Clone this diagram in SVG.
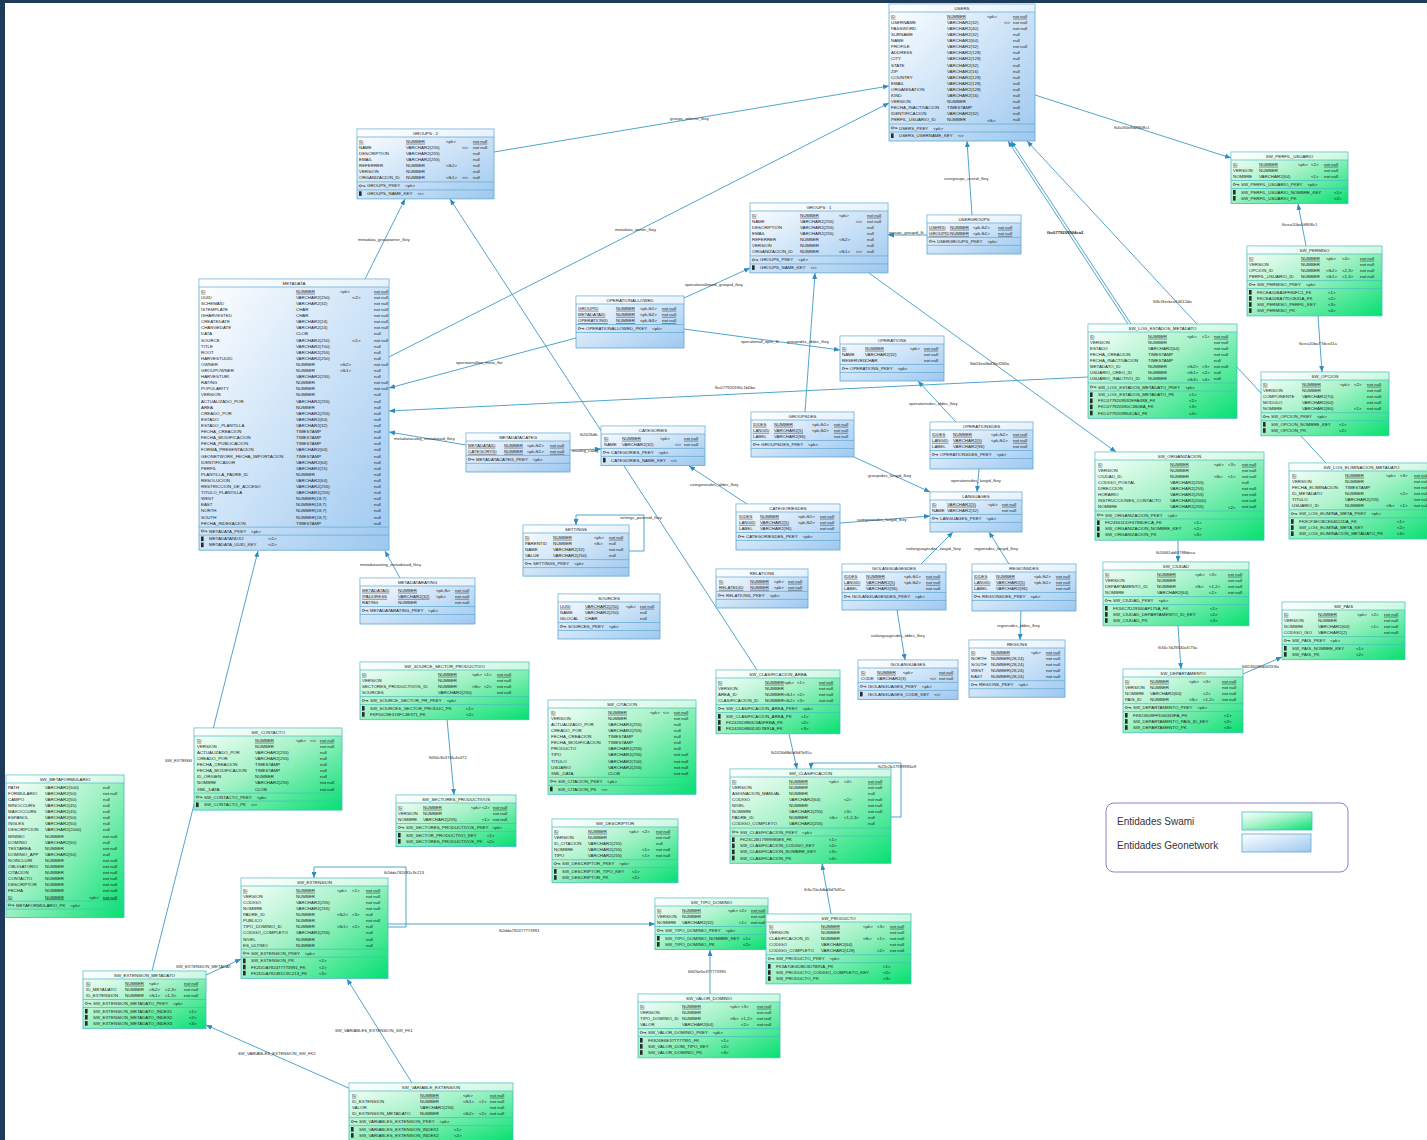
<svg xmlns="http://www.w3.org/2000/svg" xmlns:xlink="http://www.w3.org/1999/xlink" width="1427" height="1140" viewBox="0 0 1427 1140">
<defs>
<style>
text{font-family:'Liberation Sans',Arial,sans-serif;font-size:4.4px;fill:#1c1c1c}
.h{text-anchor:middle}
.u{text-decoration:underline}
.B{fill:url(#gB);stroke:#5ea8d2;stroke-width:.8}
.G{fill:url(#gG);stroke:#48bcc0;stroke-width:.8}
.hd{fill:#fff;fill-opacity:.55}
.sB{fill:none;stroke:#5ea8d2;stroke-width:.7}
.sG{fill:none;stroke:#48bcc0;stroke-width:.7}
.e{fill:none;stroke:#3d9bc6;stroke-width:.9;marker-end:url(#a)}
.l{font-size:4.2px;fill:#2a2a2a}
.lg{font-size:10px;fill:#333}
</style>
<linearGradient id="gB" x1="0" y1="0" x2="1" y2="1"><stop offset="0" stop-color="#ffffff"/><stop offset="1" stop-color="#9dc8f0"/></linearGradient>
<linearGradient id="gG" x1="0" y1="0" x2="1" y2="1"><stop offset="0" stop-color="#ffffff"/><stop offset=".45" stop-color="#a6f2c8"/><stop offset="1" stop-color="#05e070"/></linearGradient>
<marker id="a" viewBox="0 0 6 5" refX="6" refY="2.5" markerWidth="6" markerHeight="5" orient="auto" markerUnits="userSpaceOnUse"><path d="M0 0L6 2.5L0 5z" fill="#2f8cc0"/></marker>
<g id="ky"><circle cx="1.3" cy="1.5" r="1.1" fill="none" stroke="#333" stroke-width=".6"/><path d="M2.4 1.5H6M5 1.5V2.8M6 1.5V2.6" stroke="#333" stroke-width=".6" fill="none"/></g>
<rect id="ix" width="2.6" height="4.6" fill="#2b2b2b"/>
</defs>
<rect width="1427" height="1140" fill="#1e3b5a"/>
<rect x="5" y="3" width="1422" height="1137" fill="#fff"/>

<g id="connectors">
<path class="e" d="M494 152L889 86"/>
<path class="e" d="M389 357L889 103"/>
<path class="e" d="M365 279L405 199"/>
<path class="e" d="M757 670L450 199"/>
<path class="e" d="M684 298L750 268"/>
<path class="e" d="M684 329L840 350"/>
<path class="e" d="M576 338L389 388"/>
<path class="e" d="M805 412L815 273"/>
<path class="e" d="M869 273L1116 452"/>
<path class="e" d="M1088 377L389 411"/>
<path class="e" d="M1035 95L1231 158"/>
<path class="e" d="M1306 246L1298 204"/>
<path class="e" d="M1318 316L1322 372"/>
<path class="e" d="M972 215L967 141"/>
<path class="e" d="M927 235L888 235"/>
<path class="e" d="M1128 324L1008 141"/>
<path class="e" d="M1131 324L1011 141"/>
<path class="e" d="M1326 463L1027 141"/>
<path class="e" d="M1178 540L1178 562"/>
<path class="e" d="M1178 626L1181 669"/>
<path class="e" d="M1243 674L1282 657"/>
<path class="e" d="M956 422L918 381"/>
<path class="e" d="M979 469L977 492"/>
<path class="e" d="M854 457L930 492"/>
<path class="e" d="M840 523L930 516"/>
<path class="e" d="M921 564L953 532"/>
<path class="e" d="M1009 564L989 532"/>
<path class="e" d="M897 610L905 660"/>
<path class="e" d="M1021 611L1020 640"/>
<path class="e" d="M747 504L689 466"/>
<path class="e" d="M570 450L601 449"/>
<path class="e" d="M466 445L389 432"/>
<path class="e" d="M400 578L385 551"/>
<path class="e" d="M152 971L258 551"/>
<path class="e" d="M206 975L241 959"/>
<path class="e" d="M412 1083L347 979"/>
<path class="e" d="M353 1090L206 1025"/>
<path class="e" d="M447 719L454 795"/>
<path class="e" d="M789 734L797 769"/>
<path class="e" d="M831 914L822 864"/>
<path class="e" d="M710 994L710 950"/>
<path class="e" d="M388 924L655 924"/>
<path class="e" d="M388 927H406V867H314V878"/>
<path class="e" d="M891 817H901V763H811V769"/>
<path class="e" d="M629 551H644V515H576V525"/>
<text class="l" x="670" y="119.5">groups_referrer_fkey</text>
<text class="l" x="615" y="230.5">metadata_owner_fkey</text>
<text class="l" x="358" y="240.5">metadata_groupowner_fkey</text>
<text class="l" x="580" y="435.5">fk2426db</text>
<text class="l" x="685" y="285.5">operationallowed_groupid_fkey</text>
<text class="l" x="741" y="343">operationall_oper_fk</text>
<text class="l" x="787" y="343">groupsdes_iddes_fkey</text>
<text class="l" x="456" y="364">operationallow_meta_fke</text>
<text class="l" x="970" y="364.5">fkb03ea6bd1bcf2b5a</text>
<text class="l" x="715" y="388.5">fkc077920590c1b0ba</text>
<text class="l" x="1114" y="128.5">fk4a5f0e9d2f808c1</text>
<text class="l" x="1282" y="225.5">fkcea10ba5ff808c1</text>
<text class="l" x="1299" y="344.5">fkcea10ba77dce41a</text>
<text class="l" x="944" y="179.5">usergroups_userid_fkey</text>
<text class="l" x="889" y="234">groups_groupid_fk</text>
<text class="l" x="1047" y="233.5" font-weight="bold">fkc0779209964ca2</text>
<text class="l" x="1153" y="302.5">fk8cf3ecbce64612da</text>
<text class="l" x="1156" y="553.5">fk24661ddf4788deca</text>
<text class="l" x="1158" y="648.5">fk34c7d29340af175a</text>
<text class="l" x="1242" y="667.5">fk824609ffd06333fa</text>
<text class="l" x="909" y="404.5">operationsdes_iddes_fkey</text>
<text class="l" x="951" y="481.5">operationsdes_langid_fkey</text>
<text class="l" x="868" y="476.5">groupsdes_langid_fkey</text>
<text class="l" x="857" y="520.5">categoriesdes_langid_fkey</text>
<text class="l" x="906" y="549.5">isolanguagesdes_langid_fkey</text>
<text class="l" x="974" y="549.5">regionsdes_langid_fkey</text>
<text class="l" x="871" y="636.5">isolanguagesdes_iddes_fkey</text>
<text class="l" x="997" y="626.5">regionsdes_iddes_fkey</text>
<text class="l" x="690" y="485.5">categoriesdes_iddes_fkey</text>
<text class="l" x="572" y="451.5">mcateg_categ</text>
<text class="l" x="394" y="439.5">metadatacateg_metadataid_fkey</text>
<text class="l" x="360" y="565.5">metadatarating_metadataid_fkey</text>
<text class="l" x="165" y="761.5">SW_EXTENSI</text>
<text class="l" x="176" y="967.5">SW_EXTENSION_METADAT</text>
<text class="l" x="335" y="1031.5">SW_VARIABLES_EXTENSION_SW_FK1</text>
<text class="l" x="238" y="1054.5">SW_VARIABLES_EXTENSION_SW_FK2</text>
<text class="l" x="429" y="758.5">fkf50c8e374fc4e371</text>
<text class="l" x="771" y="753.5">fk2426d8b0d3d7b91a</text>
<text class="l" x="804" y="890.5">fk3a70e4dbd3d7b91a</text>
<text class="l" x="688" y="972.5">fk826e6e377773991</text>
<text class="l" x="499" y="931.5">fk2dda782477773991</text>
<text class="l" x="384" y="873.5">fk2dda782481c9c213</text>
<text class="l" x="878" y="767.5">fk23c2b17999985e8</text>
<text class="l" x="620" y="518.5">settings_parentid_fkey</text>
</g>

<g id="users" transform="translate(889,4)">
<rect class="B" width="146" height="137"/><rect class="hd" x=".4" y=".4" width="145.2" height="7.6"/>
<path class="sB" d="M0 8H146M0 120H146M0 128H146"/>
<text class="h" x="73" y="5.6">USERS</text>
<text x="2" y="13.8"><tspan class="u">ID</tspan><tspan x="2" dy="6.1">USERNAME</tspan><tspan x="2" dy="6.1">PASSWORD</tspan><tspan x="2" dy="6.1">SURNAME</tspan><tspan x="2" dy="6.1">NAME</tspan><tspan x="2" dy="6.1">PROFILE</tspan><tspan x="2" dy="6.1">ADDRESS</tspan><tspan x="2" dy="6.1">CITY</tspan><tspan x="2" dy="6.1">STATE</tspan><tspan x="2" dy="6.1">ZIP</tspan><tspan x="2" dy="6.1">COUNTRY</tspan><tspan x="2" dy="6.1">EMAIL</tspan><tspan x="2" dy="6.1">ORGANISATION</tspan><tspan x="2" dy="6.1">KIND</tspan><tspan x="2" dy="6.1">VERSION</tspan><tspan x="2" dy="6.1">FECHA_INACTIVACION</tspan><tspan x="2" dy="6.1">IDENTIFICACION</tspan><tspan x="2" dy="6.1">PERFIL_USUARIO_ID</tspan></text>
<text x="58" y="13.8"><tspan class="u">NUMBER</tspan><tspan x="58" dy="6.1">VARCHAR2(32)</tspan><tspan x="58" dy="6.1">VARCHAR2(40)</tspan><tspan x="58" dy="6.1">VARCHAR2(32)</tspan><tspan x="58" dy="6.1">VARCHAR2(64)</tspan><tspan x="58" dy="6.1">VARCHAR2(32)</tspan><tspan x="58" dy="6.1">VARCHAR2(128)</tspan><tspan x="58" dy="6.1">VARCHAR2(128)</tspan><tspan x="58" dy="6.1">VARCHAR2(32)</tspan><tspan x="58" dy="6.1">VARCHAR2(16)</tspan><tspan x="58" dy="6.1">VARCHAR2(128)</tspan><tspan x="58" dy="6.1">VARCHAR2(128)</tspan><tspan x="58" dy="6.1">VARCHAR2(128)</tspan><tspan x="58" dy="6.1">VARCHAR2(16)</tspan><tspan x="58" dy="6.1">NUMBER</tspan><tspan x="58" dy="6.1">TIMESTAMP</tspan><tspan x="58" dy="6.1">VARCHAR2(32)</tspan><tspan x="58" dy="6.1">NUMBER</tspan></text>
<text><tspan x="98" y="13.8">&lt;pk&gt;</tspan><tspan x="98" y="117.5">&lt;fk&gt;</tspan><tspan x="115" y="19.9">&lt;i&gt;</tspan></text>
<text x="124" y="13.8"><tspan class="u">not null</tspan><tspan x="124" dy="6.1">not null</tspan><tspan x="124" dy="6.1">not null</tspan><tspan x="124" dy="6.1">null</tspan><tspan x="124" dy="6.1">null</tspan><tspan x="124" dy="6.1">not null</tspan><tspan x="124" dy="6.1">null</tspan><tspan x="124" dy="6.1">null</tspan><tspan x="124" dy="6.1">null</tspan><tspan x="124" dy="6.1">null</tspan><tspan x="124" dy="6.1">null</tspan><tspan x="124" dy="6.1">null</tspan><tspan x="124" dy="6.1">null</tspan><tspan x="124" dy="6.1">null</tspan><tspan x="124" dy="6.1">null</tspan><tspan x="124" dy="6.1">null</tspan><tspan x="124" dy="6.1">null</tspan><tspan x="124" dy="6.1">null</tspan></text>
<use href="#ky" x="2" y="122.4"/><text x="10" y="125.5">USERS_PKEY<tspan dx="5">&lt;pk&gt;</tspan></text>
<use href="#ix" x="2" y="129.4"/><text x="10" y="133.2">USERS_USERNAME_KEY<tspan dx="5">&lt;i&gt;</tspan></text>
</g>

<g id="groups2" transform="translate(357,129)">
<rect class="B" width="137" height="69.9"/><rect class="hd" x=".4" y=".4" width="136.2" height="7.6"/>
<path class="sB" d="M0 8H137M0 52.9H137M0 60.9H137"/>
<text class="h" x="68.5" y="5.6">GROUPS : 2</text>
<text x="2" y="13.8"><tspan class="u">ID</tspan><tspan x="2" dy="6.1">NAME</tspan><tspan x="2" dy="6.1">DESCRIPTION</tspan><tspan x="2" dy="6.1">EMAIL</tspan><tspan x="2" dy="6.1">REFERRER</tspan><tspan x="2" dy="6.1">VERSION</tspan><tspan x="2" dy="6.1">ORGANIZACION_ID</tspan></text>
<text x="49" y="13.8"><tspan class="u">NUMBER</tspan><tspan x="49" dy="6.1">VARCHAR2(255)</tspan><tspan x="49" dy="6.1">VARCHAR2(255)</tspan><tspan x="49" dy="6.1">VARCHAR2(255)</tspan><tspan x="49" dy="6.1">NUMBER</tspan><tspan x="49" dy="6.1">NUMBER</tspan><tspan x="49" dy="6.1">NUMBER</tspan></text>
<text><tspan x="89" y="13.8">&lt;pk&gt;</tspan><tspan x="89" y="38.2">&lt;fk2&gt;</tspan><tspan x="89" y="50.4">&lt;fk1&gt;</tspan><tspan x="105" y="19.9">&lt;i&gt;</tspan><tspan x="105" y="50.4">&lt;i&gt;</tspan></text>
<text x="116" y="13.8"><tspan class="u">not null</tspan><tspan x="116" dy="6.1">not null</tspan><tspan x="116" dy="6.1">null</tspan><tspan x="116" dy="6.1">null</tspan><tspan x="116" dy="6.1">null</tspan><tspan x="116" dy="6.1">null</tspan><tspan x="116" dy="6.1">null</tspan></text>
<use href="#ky" x="2" y="55.3"/><text x="10" y="58.4">GROUPS_PKEY<tspan dx="5">&lt;pk&gt;</tspan></text>
<use href="#ix" x="2" y="62.3"/><text x="10" y="66.1">GROUPS_NAME_KEY<tspan dx="5">&lt;i&gt;</tspan></text>
</g>

<g id="groups1" transform="translate(750,203)">
<rect class="B" width="138" height="69.9"/><rect class="hd" x=".4" y=".4" width="137.2" height="7.6"/>
<path class="sB" d="M0 8H138M0 52.9H138M0 60.9H138"/>
<text class="h" x="69" y="5.6">GROUPS : 1</text>
<text x="2" y="13.8"><tspan class="u">ID</tspan><tspan x="2" dy="6.1">NAME</tspan><tspan x="2" dy="6.1">DESCRIPTION</tspan><tspan x="2" dy="6.1">EMAIL</tspan><tspan x="2" dy="6.1">REFERRER</tspan><tspan x="2" dy="6.1">VERSION</tspan><tspan x="2" dy="6.1">ORGANIZACION_ID</tspan></text>
<text x="50" y="13.8"><tspan class="u">NUMBER</tspan><tspan x="50" dy="6.1">VARCHAR2(255)</tspan><tspan x="50" dy="6.1">VARCHAR2(255)</tspan><tspan x="50" dy="6.1">VARCHAR2(255)</tspan><tspan x="50" dy="6.1">NUMBER</tspan><tspan x="50" dy="6.1">NUMBER</tspan><tspan x="50" dy="6.1">NUMBER</tspan></text>
<text><tspan x="89" y="13.8">&lt;pk&gt;</tspan><tspan x="89" y="38.2">&lt;fk2&gt;</tspan><tspan x="89" y="50.4">&lt;fk1&gt;</tspan><tspan x="106" y="19.9">&lt;i&gt;</tspan><tspan x="106" y="50.4">&lt;i&gt;</tspan></text>
<text x="117" y="13.8"><tspan class="u">not null</tspan><tspan x="117" dy="6.1">not null</tspan><tspan x="117" dy="6.1">null</tspan><tspan x="117" dy="6.1">null</tspan><tspan x="117" dy="6.1">null</tspan><tspan x="117" dy="6.1">null</tspan><tspan x="117" dy="6.1">null</tspan></text>
<use href="#ky" x="2" y="55.3"/><text x="10" y="58.4">GROUPS_PKEY<tspan dx="5">&lt;pk&gt;</tspan></text>
<use href="#ix" x="2" y="62.3"/><text x="10" y="66.1">GROUPS_NAME_KEY<tspan dx="5">&lt;i&gt;</tspan></text>
</g>

<g id="usergroups" transform="translate(927,215)">
<rect class="B" width="94" height="39"/><rect class="hd" x=".4" y=".4" width="93.2" height="7.6"/>
<path class="sB" d="M0 8H94M0 22.4H94M0 30.4H94"/>
<text class="h" x="47" y="5.6">USERGROUPS</text>
<text x="2" y="13.8"><tspan class="u">USERID</tspan><tspan x="2" dy="6.1" class="u">GROUPID</tspan></text>
<text x="23" y="13.8"><tspan class="u">NUMBER</tspan><tspan x="23" dy="6.1" class="u">NUMBER</tspan></text>
<text x="46" y="13.8">&lt;pk,fk2&gt;<tspan x="46" dy="6.1">&lt;pk,fk1&gt;</tspan></text>
<text x="71" y="13.8"><tspan class="u">not null</tspan><tspan x="71" dy="6.1" class="u">not null</tspan></text>
<use href="#ky" x="2" y="24.8"/><text x="10" y="27.9">USERGROUPS_PKEY<tspan dx="5">&lt;pk&gt;</tspan></text>
</g>

<g id="operations" transform="translate(840,336)">
<rect class="B" width="104" height="45"/><rect class="hd" x=".4" y=".4" width="103.2" height="7.6"/>
<path class="sB" d="M0 8H104M0 28.5H104M0 36.5H104"/>
<text class="h" x="52" y="5.6">OPERATIONS</text>
<text x="2" y="13.8"><tspan class="u">ID</tspan><tspan x="2" dy="6.1">NAME</tspan><tspan x="2" dy="6.1">RESERVED</tspan></text>
<text x="25" y="13.8"><tspan class="u">NUMBER</tspan><tspan x="25" dy="6.1">VARCHAR2(32)</tspan><tspan x="25" dy="6.1">CHAR</tspan></text>
<text x="70" y="13.8">&lt;pk&gt;</text>
<text x="84" y="13.8"><tspan class="u">not null</tspan><tspan x="84" dy="6.1">not null</tspan><tspan x="84" dy="6.1">not null</tspan></text>
<use href="#ky" x="2" y="30.9"/><text x="10" y="34">OPERATIONS_PKEY<tspan dx="5">&lt;pk&gt;</tspan></text>
</g>

<g id="operationallowed" transform="translate(576,296)">
<rect class="B" width="108" height="52"/><rect class="hd" x=".4" y=".4" width="107.2" height="7.6"/>
<path class="sB" d="M0 8H108M0 28.5H108M0 36.5H108"/>
<text class="h" x="54" y="5.6">OPERATIONALLOWED</text>
<text x="2" y="13.8"><tspan class="u">GROUPID</tspan><tspan x="2" dy="6.1" class="u">METADATAID</tspan><tspan x="2" dy="6.1" class="u">OPERATIONID</tspan></text>
<text x="40" y="13.8"><tspan class="u">NUMBER</tspan><tspan x="40" dy="6.1" class="u">NUMBER</tspan><tspan x="40" dy="6.1" class="u">NUMBER</tspan></text>
<text x="64" y="13.8">&lt;pk,fk1&gt;<tspan x="64" dy="6.1">&lt;pk,fk2&gt;</tspan><tspan x="64" dy="6.1">&lt;pk,fk3&gt;</tspan></text>
<text x="86" y="13.8"><tspan class="u">not null</tspan><tspan x="86" dy="6.1" class="u">not null</tspan><tspan x="86" dy="6.1" class="u">not null</tspan></text>
<use href="#ky" x="2" y="30.9"/><text x="10" y="34">OPERATIONALLOWED_PKEY<tspan dx="5">&lt;pk&gt;</tspan></text>
</g>

<g id="metadata" transform="translate(199,279)">
<rect class="B" width="190" height="271.2"/><rect class="hd" x=".4" y=".4" width="189.2" height="7.6"/>
<path class="sB" d="M0 8H190M0 248.1H190M0 256.1H190"/>
<text class="h" x="95" y="5.6">METADATA</text>
<text x="2" y="13.8"><tspan class="u">ID</tspan><tspan x="2" dy="6.1">UUID</tspan><tspan x="2" dy="6.1">SCHEMAID</tspan><tspan x="2" dy="6.1">ISTEMPLATE</tspan><tspan x="2" dy="6.1">ISHARVESTED</tspan><tspan x="2" dy="6.1">CREATEDATE</tspan><tspan x="2" dy="6.1">CHANGEDATE</tspan><tspan x="2" dy="6.1">DATA</tspan><tspan x="2" dy="6.1">SOURCE</tspan><tspan x="2" dy="6.1">TITLE</tspan><tspan x="2" dy="6.1">ROOT</tspan><tspan x="2" dy="6.1">HARVESTUUID</tspan><tspan x="2" dy="6.1">OWNER</tspan><tspan x="2" dy="6.1">GROUPOWNER</tspan><tspan x="2" dy="6.1">HARVESTURI</tspan><tspan x="2" dy="6.1">RATING</tspan><tspan x="2" dy="6.1">POPULARITY</tspan><tspan x="2" dy="6.1">VERSION</tspan><tspan x="2" dy="6.1">ACTUALIZADO_POR</tspan><tspan x="2" dy="6.1">AREA</tspan><tspan x="2" dy="6.1">CREADO_POR</tspan><tspan x="2" dy="6.1">ESTADO</tspan><tspan x="2" dy="6.1">ESTADO_PLANTILLA</tspan><tspan x="2" dy="6.1">FECHA_CREACION</tspan><tspan x="2" dy="6.1">FECHA_MODIFICACION</tspan><tspan x="2" dy="6.1">FECHA_PUBLICACION</tspan><tspan x="2" dy="6.1">FORMA_PRESENTACION</tspan><tspan x="2" dy="6.1">GEONETWORK_FECHA_IMPORTACION</tspan><tspan x="2" dy="6.1">IDENTIFICADOR</tspan><tspan x="2" dy="6.1">PERFIL</tspan><tspan x="2" dy="6.1">PLANTILLA_PADRE_ID</tspan><tspan x="2" dy="6.1">RESOLUCION</tspan><tspan x="2" dy="6.1">RESTRICCION_DE_ACCESO</tspan><tspan x="2" dy="6.1">TITULO_PLANTILLA</tspan><tspan x="2" dy="6.1">WEST</tspan><tspan x="2" dy="6.1">EAST</tspan><tspan x="2" dy="6.1">NORTH</tspan><tspan x="2" dy="6.1">SOUTH</tspan><tspan x="2" dy="6.1">FECHA_INDEXACION</tspan></text>
<text x="97" y="13.8"><tspan class="u">NUMBER</tspan><tspan x="97" dy="6.1">VARCHAR2(250)</tspan><tspan x="97" dy="6.1">VARCHAR2(32)</tspan><tspan x="97" dy="6.1">CHAR</tspan><tspan x="97" dy="6.1">CHAR</tspan><tspan x="97" dy="6.1">VARCHAR2(24)</tspan><tspan x="97" dy="6.1">VARCHAR2(24)</tspan><tspan x="97" dy="6.1">CLOB</tspan><tspan x="97" dy="6.1">VARCHAR2(250)</tspan><tspan x="97" dy="6.1">VARCHAR2(700)</tspan><tspan x="97" dy="6.1">VARCHAR2(255)</tspan><tspan x="97" dy="6.1">VARCHAR2(250)</tspan><tspan x="97" dy="6.1">NUMBER</tspan><tspan x="97" dy="6.1">NUMBER</tspan><tspan x="97" dy="6.1">VARCHAR2(255)</tspan><tspan x="97" dy="6.1">NUMBER</tspan><tspan x="97" dy="6.1">NUMBER</tspan><tspan x="97" dy="6.1">NUMBER</tspan><tspan x="97" dy="6.1">VARCHAR2(255)</tspan><tspan x="97" dy="6.1">NUMBER</tspan><tspan x="97" dy="6.1">VARCHAR2(255)</tspan><tspan x="97" dy="6.1">VARCHAR2(64)</tspan><tspan x="97" dy="6.1">VARCHAR2(32)</tspan><tspan x="97" dy="6.1">TIMESTAMP</tspan><tspan x="97" dy="6.1">TIMESTAMP</tspan><tspan x="97" dy="6.1">TIMESTAMP</tspan><tspan x="97" dy="6.1">VARCHAR2(64)</tspan><tspan x="97" dy="6.1">TIMESTAMP</tspan><tspan x="97" dy="6.1">VARCHAR2(64)</tspan><tspan x="97" dy="6.1">VARCHAR2(15)</tspan><tspan x="97" dy="6.1">NUMBER</tspan><tspan x="97" dy="6.1">VARCHAR2(64)</tspan><tspan x="97" dy="6.1">VARCHAR2(255)</tspan><tspan x="97" dy="6.1">VARCHAR2(255)</tspan><tspan x="97" dy="6.1">NUMBER(18,7)</tspan><tspan x="97" dy="6.1">NUMBER(18,7)</tspan><tspan x="97" dy="6.1">NUMBER(18,7)</tspan><tspan x="97" dy="6.1">NUMBER(18,7)</tspan><tspan x="97" dy="6.1">TIMESTAMP</tspan></text>
<text><tspan x="141" y="13.8">&lt;pk&gt;</tspan><tspan x="141" y="87">&lt;fk2&gt;</tspan><tspan x="141" y="93.1">&lt;fk1&gt;</tspan><tspan x="153" y="19.9">&lt;i2&gt;</tspan><tspan x="153" y="62.6">&lt;i1&gt;</tspan></text>
<text x="175" y="13.8"><tspan class="u">not null</tspan><tspan x="175" dy="6.1">not null</tspan><tspan x="175" dy="6.1">not null</tspan><tspan x="175" dy="6.1">not null</tspan><tspan x="175" dy="6.1">not null</tspan><tspan x="175" dy="6.1">not null</tspan><tspan x="175" dy="6.1">not null</tspan><tspan x="175" dy="6.1">null</tspan><tspan x="175" dy="6.1">not null</tspan><tspan x="175" dy="6.1">null</tspan><tspan x="175" dy="6.1">null</tspan><tspan x="175" dy="6.1">null</tspan><tspan x="175" dy="6.1">not null</tspan><tspan x="175" dy="6.1">null</tspan><tspan x="175" dy="6.1">null</tspan><tspan x="175" dy="6.1">not null</tspan><tspan x="175" dy="6.1">not null</tspan><tspan x="175" dy="6.1">null</tspan><tspan x="175" dy="6.1">null</tspan><tspan x="175" dy="6.1">null</tspan><tspan x="175" dy="6.1">null</tspan><tspan x="175" dy="6.1">null</tspan><tspan x="175" dy="6.1">null</tspan><tspan x="175" dy="6.1">null</tspan><tspan x="175" dy="6.1">null</tspan><tspan x="175" dy="6.1">null</tspan><tspan x="175" dy="6.1">null</tspan><tspan x="175" dy="6.1">null</tspan><tspan x="175" dy="6.1">null</tspan><tspan x="175" dy="6.1">null</tspan><tspan x="175" dy="6.1">null</tspan><tspan x="175" dy="6.1">null</tspan><tspan x="175" dy="6.1">null</tspan><tspan x="175" dy="6.1">null</tspan><tspan x="175" dy="6.1">null</tspan><tspan x="175" dy="6.1">null</tspan><tspan x="175" dy="6.1">null</tspan><tspan x="175" dy="6.1">null</tspan><tspan x="175" dy="6.1">null</tspan></text>
<use href="#ky" x="2" y="250.5"/><text x="10" y="253.6">METADATA_PKEY<tspan dx="5">&lt;pk&gt;</tspan></text>
<use href="#ix" x="2" y="257.5"/><use href="#ix" x="2" y="263.6"/>
<text x="10" y="261.3">METADATANDX2<tspan x="10" dy="6.1">METADATA_UUID_KEY</tspan></text>
<text x="69" y="261.3">&lt;i1&gt;<tspan x="69" dy="6.1">&lt;i2&gt;</tspan></text>
</g>

<g id="metadatacateg" transform="translate(466,433)">
<rect class="B" width="104" height="39"/><rect class="hd" x=".4" y=".4" width="103.2" height="7.6"/>
<path class="sB" d="M0 8H104M0 22.4H104M0 30.4H104"/>
<text class="h" x="52" y="5.6">METADATACATEG</text>
<text x="2" y="13.8"><tspan class="u">METADATAID</tspan><tspan x="2" dy="6.1" class="u">CATEGORYID</tspan></text>
<text x="38" y="13.8"><tspan class="u">NUMBER</tspan><tspan x="38" dy="6.1" class="u">NUMBER</tspan></text>
<text x="61" y="13.8">&lt;pk,fk2&gt;<tspan x="61" dy="6.1">&lt;pk,fk1&gt;</tspan></text>
<text x="84" y="13.8"><tspan class="u">not null</tspan><tspan x="84" dy="6.1" class="u">not null</tspan></text>
<use href="#ky" x="2" y="24.8"/><text x="10" y="27.9">METADATACATEG_PKEY<tspan dx="5">&lt;pk&gt;</tspan></text>
</g>

<g id="categories" transform="translate(601,426)">
<rect class="B" width="104" height="39.4"/><rect class="hd" x=".4" y=".4" width="103.2" height="7.6"/>
<path class="sB" d="M0 8H104M0 22.4H104M0 30.4H104"/>
<text class="h" x="52" y="5.6">CATEGORIES</text>
<text x="3" y="13.8"><tspan class="u">ID</tspan><tspan x="3" dy="6.1">NAME</tspan></text>
<text x="21" y="13.8"><tspan class="u">NUMBER</tspan><tspan x="21" dy="6.1">VARCHAR2(32)</tspan></text>
<text><tspan x="59" y="13.8">&lt;pk&gt;</tspan><tspan x="74" y="19.9">&lt;i&gt;</tspan></text>
<text x="83" y="13.8"><tspan class="u">not null</tspan><tspan x="83" dy="6.1">not null</tspan></text>
<use href="#ky" x="2" y="24.8"/><text x="10" y="27.9">CATEGORIES_PKEY<tspan dx="5">&lt;pk&gt;</tspan></text>
<use href="#ix" x="2" y="31.8"/><text x="10" y="35.6">CATEGORIES_NAME_KEY<tspan dx="5">&lt;i&gt;</tspan></text>
</g>

<g id="settings" transform="translate(523,525)">
<rect class="B" width="106" height="51.1"/><rect class="hd" x=".4" y=".4" width="105.2" height="7.6"/>
<path class="sB" d="M0 8H106M0 34.6H106M0 42.6H106"/>
<text class="h" x="53" y="5.6">SETTINGS</text>
<text x="2" y="13.8"><tspan class="u">ID</tspan><tspan x="2" dy="6.1">PARENTID</tspan><tspan x="2" dy="6.1">NAME</tspan><tspan x="2" dy="6.1">VALUE</tspan></text>
<text x="30" y="13.8"><tspan class="u">NUMBER</tspan><tspan x="30" dy="6.1">NUMBER</tspan><tspan x="30" dy="6.1">VARCHAR2(32)</tspan><tspan x="30" dy="6.1">VARCHAR2(250)</tspan></text>
<text x="71" y="13.8">&lt;pk&gt;<tspan x="71" dy="6.1">&lt;fk&gt;</tspan></text>
<text x="86" y="13.8"><tspan class="u">not null</tspan><tspan x="86" dy="6.1">null</tspan><tspan x="86" dy="6.1">not null</tspan><tspan x="86" dy="6.1">null</tspan></text>
<use href="#ky" x="2" y="37"/><text x="10" y="40.1">SETTINGS_PKEY<tspan dx="5">&lt;pk&gt;</tspan></text>
</g>

<g id="sources" transform="translate(558,594)">
<rect class="B" width="102" height="45"/><rect class="hd" x=".4" y=".4" width="101.2" height="7.6"/>
<path class="sB" d="M0 8H102M0 28.5H102M0 36.5H102"/>
<text class="h" x="51" y="5.6">SOURCES</text>
<text x="2" y="13.8"><tspan class="u">UUID</tspan><tspan x="2" dy="6.1">NAME</tspan><tspan x="2" dy="6.1">ISLOCAL</tspan></text>
<text x="27" y="13.8"><tspan class="u">VARCHAR2(250)</tspan><tspan x="27" dy="6.1">VARCHAR2(250)</tspan><tspan x="27" dy="6.1">CHAR</tspan></text>
<text x="68" y="13.8">&lt;pk&gt;</text>
<text x="82" y="13.8"><tspan class="u">not null</tspan><tspan x="82" dy="6.1">null</tspan><tspan x="82" dy="6.1">null</tspan></text>
<use href="#ky" x="2" y="30.9"/><text x="10" y="34">SOURCES_PKEY<tspan dx="5">&lt;pk&gt;</tspan></text>
</g>

<g id="metadatarating" transform="translate(360,578)">
<rect class="B" width="115" height="46"/><rect class="hd" x=".4" y=".4" width="114.2" height="7.6"/>
<path class="sB" d="M0 8H115M0 28.5H115M0 36.5H115"/>
<text class="h" x="57.5" y="5.6">METADATARATING</text>
<text x="2" y="13.8"><tspan class="u">METADATAID</tspan><tspan x="2" dy="6.1" class="u">IPADDRESS</tspan><tspan x="2" dy="6.1">RATING</tspan></text>
<text x="38" y="13.8"><tspan class="u">NUMBER</tspan><tspan x="38" dy="6.1" class="u">VARCHAR2(32)</tspan><tspan x="38" dy="6.1">NUMBER</tspan></text>
<text x="76" y="13.8">&lt;pk,fk&gt;<tspan x="76" dy="6.1">&lt;pk&gt;</tspan></text>
<text x="95" y="13.8"><tspan class="u">not null</tspan><tspan x="95" dy="6.1" class="u">not null</tspan><tspan x="95" dy="6.1">not null</tspan></text>
<use href="#ky" x="2" y="30.9"/><text x="10" y="34">METADATARATING_PKEY<tspan dx="5">&lt;pk&gt;</tspan></text>
</g>

<g id="sw_source_sector_productivo" transform="translate(360,662)">
<rect class="G" width="169" height="57.7"/><rect class="hd" x=".4" y=".4" width="168.2" height="7.6"/>
<path class="sG" d="M0 8H169M0 34.6H169M0 42.6H169"/>
<text class="h" x="84.5" y="5.6">SW_SOURCE_SECTOR_PRODUCTIVO</text>
<text x="2" y="13.8"><tspan class="u">ID</tspan><tspan x="2" dy="6.1">VERSION</tspan><tspan x="2" dy="6.1">SECTORES_PRODUCTIVOS_ID</tspan><tspan x="2" dy="6.1">SOURCES</tspan></text>
<text x="78" y="13.8"><tspan class="u">NUMBER</tspan><tspan x="78" dy="6.1">NUMBER</tspan><tspan x="78" dy="6.1">NUMBER</tspan><tspan x="78" dy="6.1">VARCHAR2(250)</tspan></text>
<text><tspan x="112" y="13.8">&lt;pk&gt;</tspan><tspan x="112" y="26">&lt;fk&gt;</tspan><tspan x="124" y="13.8">&lt;1&gt;</tspan><tspan x="124" y="26">&lt;2&gt;</tspan></text>
<text x="137" y="13.8"><tspan class="u">not null</tspan><tspan x="137" dy="6.1">not null</tspan><tspan x="137" dy="6.1">not null</tspan><tspan x="137" dy="6.1">not null</tspan></text>
<use href="#ky" x="2" y="37"/><text x="10" y="40.1">SW_SOURCE_SECTOR_PR_PKEY<tspan dx="5">&lt;pk&gt;</tspan></text>
<use href="#ix" x="2" y="44"/><use href="#ix" x="2" y="50.1"/>
<text x="10" y="47.8">SW_SOURCES_SECTOR_PRODUC_PK<tspan x="10" dy="6.1">FKF50C8E374FC4E371_FK</tspan></text>
<text x="106" y="47.8">&lt;1&gt;<tspan x="106" dy="6.1">&lt;2&gt;</tspan></text>
</g>

<g id="sw_citacion" transform="translate(548,700)">
<rect class="G" width="148" height="94.3"/><rect class="hd" x=".4" y=".4" width="147.2" height="7.6"/>
<path class="sG" d="M0 8H148M0 77.3H148M0 85.3H148"/>
<text class="h" x="74" y="5.6">SW_CITACION</text>
<text x="3" y="13.8"><tspan class="u">ID</tspan><tspan x="3" dy="6.1">VERSION</tspan><tspan x="3" dy="6.1">ACTUALIZADO_POR</tspan><tspan x="3" dy="6.1">CREADO_POR</tspan><tspan x="3" dy="6.1">FECHA_CREACION</tspan><tspan x="3" dy="6.1">FECHA_MODIFICACION</tspan><tspan x="3" dy="6.1">PRODUCTO</tspan><tspan x="3" dy="6.1">TIPO</tspan><tspan x="3" dy="6.1">TITULO</tspan><tspan x="3" dy="6.1">USUARIO</tspan><tspan x="3" dy="6.1">XML_DATA</tspan></text>
<text x="60" y="13.8"><tspan class="u">NUMBER</tspan><tspan x="60" dy="6.1">NUMBER</tspan><tspan x="60" dy="6.1">VARCHAR2(255)</tspan><tspan x="60" dy="6.1">VARCHAR2(255)</tspan><tspan x="60" dy="6.1">TIMESTAMP</tspan><tspan x="60" dy="6.1">TIMESTAMP</tspan><tspan x="60" dy="6.1">VARCHAR2(255)</tspan><tspan x="60" dy="6.1">VARCHAR2(255)</tspan><tspan x="60" dy="6.1">VARCHAR2(700)</tspan><tspan x="60" dy="6.1">VARCHAR2(255)</tspan><tspan x="60" dy="6.1">CLOB</tspan></text>
<text y="13.8"><tspan x="102">&lt;pk&gt;</tspan><tspan x="115">&lt;i&gt;</tspan></text>
<text x="126" y="13.8"><tspan class="u">not null</tspan><tspan x="126" dy="6.1">not null</tspan><tspan x="126" dy="6.1">null</tspan><tspan x="126" dy="6.1">null</tspan><tspan x="126" dy="6.1">null</tspan><tspan x="126" dy="6.1">null</tspan><tspan x="126" dy="6.1">null</tspan><tspan x="126" dy="6.1">not null</tspan><tspan x="126" dy="6.1">not null</tspan><tspan x="126" dy="6.1">not null</tspan><tspan x="126" dy="6.1">not null</tspan></text>
<use href="#ky" x="2" y="79.7"/><text x="10" y="82.8">SW_CITACION_PKEY<tspan dx="5">&lt;pk&gt;</tspan></text>
<use href="#ix" x="2" y="86.7"/><text x="10" y="90.5">SW_CITACION_PK<tspan dx="5">&lt;i&gt;</tspan></text>
</g>

<g id="sw_sectores_productivos" transform="translate(396,795)">
<rect class="G" width="120" height="51.6"/><rect class="hd" x=".4" y=".4" width="119.2" height="7.6"/>
<path class="sG" d="M0 8H120M0 28.5H120M0 36.5H120"/>
<text class="h" x="60" y="5.6">SW_SECTORES_PRODUCTIVOS</text>
<text x="2" y="13.8"><tspan class="u">ID</tspan><tspan x="2" dy="6.1">VERSION</tspan><tspan x="2" dy="6.1">NOMBRE</tspan></text>
<text x="27" y="13.8"><tspan class="u">NUMBER</tspan><tspan x="27" dy="6.1">NUMBER</tspan><tspan x="27" dy="6.1">VARCHAR2(255)</tspan></text>
<text><tspan x="75" y="13.8">&lt;pk&gt;</tspan><tspan x="86" y="13.8">&lt;2&gt;</tspan><tspan x="86" y="26">&lt;1&gt;</tspan></text>
<text x="97" y="13.8"><tspan class="u">not null</tspan><tspan x="97" dy="6.1">not null</tspan><tspan x="97" dy="6.1">not null</tspan></text>
<use href="#ky" x="2" y="30.9"/><text x="10" y="34">SW_SECTORES_PRODUCTIVOS_PKEY<tspan dx="4">&lt;pk&gt;</tspan></text>
<use href="#ix" x="2" y="37.9"/><use href="#ix" x="2" y="44"/>
<text x="10" y="41.7">SW_SECTOR_PRODUCTIVO_KEY<tspan x="10" dy="6.1">SW_SECTORES_PRODUCTIVOS_PK</tspan></text>
<text x="91" y="41.7">&lt;1&gt;<tspan x="91" dy="6.1">&lt;2&gt;</tspan></text>
</g>

<g id="sw_descriptor" transform="translate(552,819)">
<rect class="G" width="126" height="63.8"/><rect class="hd" x=".4" y=".4" width="125.2" height="7.6"/>
<path class="sG" d="M0 8H126M0 40.7H126M0 48.7H126"/>
<text class="h" x="63" y="5.6">SW_DESCRIPTOR</text>
<text x="2" y="13.8"><tspan class="u">ID</tspan><tspan x="2" dy="6.1">VERSION</tspan><tspan x="2" dy="6.1">ID_CITACION</tspan><tspan x="2" dy="6.1">NOMBRE</tspan><tspan x="2" dy="6.1">TIPO</tspan></text>
<text x="36" y="13.8"><tspan class="u">NUMBER</tspan><tspan x="36" dy="6.1">NUMBER</tspan><tspan x="36" dy="6.1">VARCHAR2(255)</tspan><tspan x="36" dy="6.1">VARCHAR2(255)</tspan><tspan x="36" dy="6.1">VARCHAR2(255)</tspan></text>
<text><tspan x="77" y="13.8">&lt;pk&gt;</tspan><tspan x="90" y="13.8">&lt;2&gt;</tspan><tspan x="90" y="32.1">&lt;1&gt;</tspan><tspan x="90" y="38.2">&lt;1&gt;</tspan></text>
<text x="104" y="13.8"><tspan class="u">not null</tspan><tspan x="104" dy="6.1">not null</tspan><tspan x="104" dy="6.1">null</tspan><tspan x="104" dy="6.1">not null</tspan><tspan x="104" dy="6.1">not null</tspan></text>
<use href="#ky" x="2" y="43.1"/><text x="10" y="46.2">SW_DESCRIPTOR_PKEY<tspan dx="5">&lt;pk&gt;</tspan></text>
<use href="#ix" x="2" y="50.1"/><use href="#ix" x="2" y="56.2"/>
<text x="10" y="53.9">SW_DESCRIPTOR_TIPO_KEY<tspan x="10" dy="6.1">SW_DESCRIPTOR_PK</tspan></text>
<text x="80" y="53.9">&lt;1&gt;<tspan x="80" dy="6.1">&lt;2&gt;</tspan></text>
</g>

<g id="sw_tipo_dominio" transform="translate(655,898)">
<rect class="G" width="113" height="51.6"/><rect class="hd" x=".4" y=".4" width="112.2" height="7.6"/>
<path class="sG" d="M0 8H113M0 28.5H113M0 36.5H113"/>
<text class="h" x="56.5" y="5.6">SW_TIPO_DOMINIO</text>
<text x="2" y="13.8"><tspan class="u">ID</tspan><tspan x="2" dy="6.1">VERSION</tspan><tspan x="2" dy="6.1">NOMBRE</tspan></text>
<text x="27" y="13.8"><tspan class="u">NUMBER</tspan><tspan x="27" dy="6.1">NUMBER</tspan><tspan x="27" dy="6.1">VARCHAR2(32)</tspan></text>
<text><tspan x="73" y="13.8">&lt;pk&gt;</tspan><tspan x="84" y="13.8">&lt;2&gt;</tspan><tspan x="84" y="26">&lt;1&gt;</tspan></text>
<text x="96" y="13.8"><tspan class="u">not null</tspan><tspan x="96" dy="6.1">not null</tspan><tspan x="96" dy="6.1">not null</tspan></text>
<use href="#ky" x="2" y="30.9"/><text x="10" y="34">SW_TIPO_DOMINIO_PKEY<tspan dx="5">&lt;pk&gt;</tspan></text>
<use href="#ix" x="2" y="37.9"/><use href="#ix" x="2" y="44"/>
<text x="10" y="41.7">SW_TIPO_DOMINIO_NOMBRE_KEY<tspan x="10" dy="6.1">SW_TIPO_DOMINIO_PK</tspan></text>
<text x="88" y="41.7">&lt;1&gt;<tspan x="88" dy="6.1">&lt;2&gt;</tspan></text>
</g>

<g id="sw_valor_dominio" transform="translate(638,994)">
<rect class="G" width="142" height="63.8"/><rect class="hd" x=".4" y=".4" width="141.2" height="7.6"/>
<path class="sG" d="M0 8H142M0 34.6H142M0 42.6H142"/>
<text class="h" x="71" y="5.6">SW_VALOR_DOMINIO</text>
<text x="2" y="13.8"><tspan class="u">ID</tspan><tspan x="2" dy="6.1">VERSION</tspan><tspan x="2" dy="6.1">TIPO_DOMINIO_ID</tspan><tspan x="2" dy="6.1">VALOR</tspan></text>
<text x="44" y="13.8"><tspan class="u">NUMBER</tspan><tspan x="44" dy="6.1">NUMBER</tspan><tspan x="44" dy="6.1">NUMBER</tspan><tspan x="44" dy="6.1">VARCHAR2(64)</tspan></text>
<text><tspan x="92" y="13.8">&lt;pk&gt;</tspan><tspan x="92" y="26">&lt;fk&gt;</tspan><tspan x="103" y="13.8">&lt;3&gt;</tspan><tspan x="103" y="26">&lt;1,2&gt;</tspan><tspan x="103" y="32.1">&lt;2&gt;</tspan></text>
<text x="119" y="13.8"><tspan class="u">not null</tspan><tspan x="119" dy="6.1">not null</tspan><tspan x="119" dy="6.1">not null</tspan><tspan x="119" dy="6.1">not null</tspan></text>
<use href="#ky" x="2" y="37"/><text x="10" y="40.1">SW_VALOR_DOMINIO_PKEY<tspan dx="5">&lt;pk&gt;</tspan></text>
<use href="#ix" x="2" y="44"/><use href="#ix" x="2" y="50.1"/><use href="#ix" x="2" y="56.2"/>
<text x="10" y="47.8">FK826E6E377777991_FK<tspan x="10" dy="6.1">SW_VALOR_DOM_TIPO_KEY</tspan><tspan x="10" dy="6.1">SW_VALOR_DOMINIO_PK</tspan></text>
<text x="83" y="47.8">&lt;1&gt;<tspan x="83" dy="6.1">&lt;2&gt;</tspan><tspan x="83" dy="6.1">&lt;3&gt;</tspan></text>
</g>

<g id="sw_producto" transform="translate(766,914)">
<rect class="G" width="145" height="69.9"/><rect class="hd" x=".4" y=".4" width="144.2" height="7.6"/>
<path class="sG" d="M0 8H145M0 40.7H145M0 48.7H145"/>
<text class="h" x="72.5" y="5.6">SW_PRODUCTO</text>
<text x="3" y="13.8"><tspan class="u">ID</tspan><tspan x="3" dy="6.1">VERSION</tspan><tspan x="3" dy="6.1">CLASIFICACION_ID</tspan><tspan x="3" dy="6.1">CODIGO</tspan><tspan x="3" dy="6.1">CODIGO_COMPLETO</tspan></text>
<text x="55" y="13.8"><tspan class="u">NUMBER</tspan><tspan x="55" dy="6.1">NUMBER</tspan><tspan x="55" dy="6.1">NUMBER</tspan><tspan x="55" dy="6.1">VARCHAR2(64)</tspan><tspan x="55" dy="6.1">VARCHAR2(128)</tspan></text>
<text><tspan x="97" y="13.8">&lt;pk&gt;</tspan><tspan x="97" y="26">&lt;fk&gt;</tspan><tspan x="111" y="13.8">&lt;3&gt;</tspan><tspan x="111" y="26">&lt;1&gt;</tspan><tspan x="111" y="38.2">&lt;2&gt;</tspan></text>
<text x="124" y="13.8"><tspan class="u">not null</tspan><tspan x="124" dy="6.1">not null</tspan><tspan x="124" dy="6.1">not null</tspan><tspan x="124" dy="6.1">not null</tspan><tspan x="124" dy="6.1">not null</tspan></text>
<use href="#ky" x="2" y="43.1"/><text x="10" y="46.2">SW_PRODUCTO_PKEY<tspan dx="5">&lt;pk&gt;</tspan></text>
<use href="#ix" x="2" y="50.1"/><use href="#ix" x="2" y="56.2"/><use href="#ix" x="2" y="62.3"/>
<text x="10" y="53.9">FK3A70E4DBD3D7B91A_FK<tspan x="10" dy="6.1">SW_PRODUCTO_CODIGO_COMPLETO_KEY</tspan><tspan x="10" dy="6.1">SW_PRODUCTO_PK</tspan></text>
<text x="117" y="53.9">&lt;1&gt;<tspan x="117" dy="6.1">&lt;2&gt;</tspan><tspan x="117" dy="6.1">&lt;3&gt;</tspan></text>
</g>

<g id="sw_clasificacion" transform="translate(730,769)">
<rect class="G" width="161" height="94.3"/><rect class="hd" x=".4" y=".4" width="160.2" height="7.6"/>
<path class="sG" d="M0 8H161M0 59H161M0 67H161"/>
<text class="h" x="80.5" y="5.6">SW_CLASIFICACION</text>
<text x="2" y="13.8"><tspan class="u">ID</tspan><tspan x="2" dy="6.1">VERSION</tspan><tspan x="2" dy="6.1">ASIGNACION_MANUAL</tspan><tspan x="2" dy="6.1">CODIGO</tspan><tspan x="2" dy="6.1">NIVEL</tspan><tspan x="2" dy="6.1">NOMBRE</tspan><tspan x="2" dy="6.1">PADRE_ID</tspan><tspan x="2" dy="6.1">CODIGO_COMPLETO</tspan></text>
<text x="59" y="13.8"><tspan class="u">NUMBER</tspan><tspan x="59" dy="6.1">NUMBER</tspan><tspan x="59" dy="6.1">NUMBER</tspan><tspan x="59" dy="6.1">VARCHAR2(64)</tspan><tspan x="59" dy="6.1">NUMBER</tspan><tspan x="59" dy="6.1">VARCHAR2(255)</tspan><tspan x="59" dy="6.1">NUMBER</tspan><tspan x="59" dy="6.1">VARCHAR2(255)</tspan></text>
<text><tspan x="99" y="13.8">&lt;pk&gt;</tspan><tspan x="99" y="50.4">&lt;fk&gt;</tspan><tspan x="114" y="13.8">&lt;4&gt;</tspan><tspan x="114" y="32.1">&lt;2&gt;</tspan><tspan x="114" y="44.3">&lt;3&gt;</tspan><tspan x="114" y="50.4">&lt;1,2,3&gt;</tspan></text>
<text x="138" y="13.8"><tspan class="u">not null</tspan><tspan x="138" dy="6.1">not null</tspan><tspan x="138" dy="6.1">null</tspan><tspan x="138" dy="6.1">not null</tspan><tspan x="138" dy="6.1">not null</tspan><tspan x="138" dy="6.1">not null</tspan><tspan x="138" dy="6.1">null</tspan><tspan x="138" dy="6.1">null</tspan></text>
<use href="#ky" x="2" y="61.4"/><text x="10" y="64.5">SW_CLASIFICACION_PKEY<tspan dx="5">&lt;pk&gt;</tspan></text>
<use href="#ix" x="2" y="68.4"/><use href="#ix" x="2" y="74.5"/><use href="#ix" x="2" y="80.6"/><use href="#ix" x="2" y="86.7"/>
<text x="10" y="72.2">FK23C2B17999985E8_FK<tspan x="10" dy="6.1">SW_CLASIFICACION_CODIGO_KEY</tspan><tspan x="10" dy="6.1">SW_CLASIFICACION_NOMBRE_KEY</tspan><tspan x="10" dy="6.1">SW_CLASIFICACION_PK</tspan></text>
<text x="99" y="72.2">&lt;1&gt;<tspan x="99" dy="6.1">&lt;2&gt;</tspan><tspan x="99" dy="6.1">&lt;3&gt;</tspan><tspan x="99" dy="6.1">&lt;4&gt;</tspan></text>
</g>

<g id="sw_clasificacion_area" transform="translate(716,670)">
<rect class="G" width="124" height="63.8"/><rect class="hd" x=".4" y=".4" width="123.2" height="7.6"/>
<path class="sG" d="M0 8H124M0 34.6H124M0 42.6H124"/>
<text class="h" x="62" y="5.6">SW_CLASIFICACION_AREA</text>
<text x="2" y="13.8"><tspan class="u">ID</tspan><tspan x="2" dy="6.1">VERSION</tspan><tspan x="2" dy="6.1">AREA_ID</tspan><tspan x="2" dy="6.1">CLASIFICACION_ID</tspan></text>
<text x="49" y="13.8"><tspan class="u">NUMBER</tspan><tspan x="49" dy="6.1">NUMBER</tspan><tspan x="49" dy="6.1">NUMBER</tspan><tspan x="49" dy="6.1">NUMBER</tspan></text>
<text><tspan x="68" y="13.8">&lt;pk&gt;</tspan><tspan x="68" y="26">&lt;fk1&gt;</tspan><tspan x="68" y="32.1">&lt;fk2&gt;</tspan><tspan x="81" y="13.8">&lt;1&gt;</tspan><tspan x="81" y="26">&lt;2&gt;</tspan><tspan x="81" y="32.1">&lt;3&gt;</tspan></text>
<text x="103" y="13.8"><tspan class="u">not null</tspan><tspan x="103" dy="6.1">not null</tspan><tspan x="103" dy="6.1">not null</tspan><tspan x="103" dy="6.1">not null</tspan></text>
<use href="#ky" x="2" y="37"/><text x="10" y="40.1">SW_CLASIFICACION_AREA_PKEY<tspan dx="5">&lt;pk&gt;</tspan></text>
<use href="#ix" x="2" y="44"/><use href="#ix" x="2" y="50.1"/><use href="#ix" x="2" y="56.2"/>
<text x="10" y="47.8">SW_CLASIFICACION_AREA_PK<tspan x="10" dy="6.1">FK2426D8B0D3A5FEBA_FK</tspan><tspan x="10" dy="6.1">FK2426D8B0D3D7B91A_FK</tspan></text>
<text x="85" y="47.8">&lt;1&gt;<tspan x="85" dy="6.1">&lt;2&gt;</tspan><tspan x="85" dy="6.1">&lt;3&gt;</tspan></text>
</g>

<g id="relations" transform="translate(716,569)">
<rect class="B" width="92" height="39"/><rect class="hd" x=".4" y=".4" width="91.2" height="7.6"/>
<path class="sB" d="M0 8H92M0 22.4H92M0 30.4H92"/>
<text class="h" x="46" y="5.6">RELATIONS</text>
<text x="3" y="13.8"><tspan class="u">ID</tspan><tspan x="3" dy="6.1" class="u">RELATEDID</tspan></text>
<text x="34" y="13.8"><tspan class="u">NUMBER</tspan><tspan x="34" dy="6.1" class="u">NUMBER</tspan></text>
<text x="58" y="13.8">&lt;pk&gt;<tspan x="58" dy="6.1">&lt;pk&gt;</tspan></text>
<text x="72" y="13.8"><tspan class="u">not null</tspan><tspan x="72" dy="6.1" class="u">not null</tspan></text>
<use href="#ky" x="2" y="24.8"/><text x="10" y="27.9">RELATIONS_PKEY<tspan dx="5">&lt;pk&gt;</tspan></text>
</g>

<g id="groupsdes" transform="translate(751,412)">
<rect class="B" width="103" height="45"/><rect class="hd" x=".4" y=".4" width="102.2" height="7.6"/>
<path class="sB" d="M0 8H103M0 28.5H103M0 36.5H103"/>
<text class="h" x="51.5" y="5.6">GROUPSDES</text>
<text x="2" y="13.8"><tspan class="u">IDDES</tspan><tspan x="2" dy="6.1" class="u">LANGID</tspan><tspan x="2" dy="6.1">LABEL</tspan></text>
<text x="23" y="13.8"><tspan class="u">NUMBER</tspan><tspan x="23" dy="6.1" class="u">VARCHAR2(5)</tspan><tspan x="23" dy="6.1">VARCHAR2(96)</tspan></text>
<text x="61" y="13.8">&lt;pk,fk1&gt;<tspan x="61" dy="6.1">&lt;pk,fk2&gt;</tspan></text>
<text x="83" y="13.8"><tspan class="u">not null</tspan><tspan x="83" dy="6.1" class="u">not null</tspan><tspan x="83" dy="6.1">not null</tspan></text>
<use href="#ky" x="2" y="30.9"/><text x="10" y="34">GROUPSDES_PKEY<tspan dx="5">&lt;pk&gt;</tspan></text>
</g>

<g id="operationsdes" transform="translate(930,422)">
<rect class="B" width="103" height="47"/><rect class="hd" x=".4" y=".4" width="102.2" height="7.6"/>
<path class="sB" d="M0 8H103M0 28.5H103M0 36.5H103"/>
<text class="h" x="51.5" y="5.6">OPERATIONSDES</text>
<text x="2" y="13.8"><tspan class="u">IDDES</tspan><tspan x="2" dy="6.1" class="u">LANGID</tspan><tspan x="2" dy="6.1">LABEL</tspan></text>
<text x="23" y="13.8"><tspan class="u">NUMBER</tspan><tspan x="23" dy="6.1" class="u">VARCHAR2(5)</tspan><tspan x="23" dy="6.1">VARCHAR2(96)</tspan></text>
<text x="61" y="13.8">&lt;pk,fk2&gt;<tspan x="61" dy="6.1">&lt;pk,fk1&gt;</tspan></text>
<text x="83" y="13.8"><tspan class="u">not null</tspan><tspan x="83" dy="6.1" class="u">not null</tspan><tspan x="83" dy="6.1">not null</tspan></text>
<use href="#ky" x="2" y="30.9"/><text x="10" y="34">OPERATIONSDES_PKEY<tspan dx="5">&lt;pk&gt;</tspan></text>
</g>

<g id="categoriesdes" transform="translate(736,504)">
<rect class="B" width="104" height="46"/><rect class="hd" x=".4" y=".4" width="103.2" height="7.6"/>
<path class="sB" d="M0 8H104M0 28.5H104M0 36.5H104"/>
<text class="h" x="52" y="5.6">CATEGORIESDES</text>
<text x="3" y="13.8"><tspan class="u">IDDES</tspan><tspan x="3" dy="6.1" class="u">LANGID</tspan><tspan x="3" dy="6.1">LABEL</tspan></text>
<text x="24" y="13.8"><tspan class="u">NUMBER</tspan><tspan x="24" dy="6.1" class="u">VARCHAR2(5)</tspan><tspan x="24" dy="6.1">VARCHAR2(96)</tspan></text>
<text x="62" y="13.8">&lt;pk,fk1&gt;<tspan x="62" dy="6.1">&lt;pk,fk2&gt;</tspan></text>
<text x="84" y="13.8"><tspan class="u">not null</tspan><tspan x="84" dy="6.1" class="u">not null</tspan><tspan x="84" dy="6.1">not null</tspan></text>
<use href="#ky" x="2" y="30.9"/><text x="10" y="34">CATEGORIESDES_PKEY<tspan dx="5">&lt;pk&gt;</tspan></text>
</g>

<g id="languages" transform="translate(930,492)">
<rect class="B" width="92" height="40"/><rect class="hd" x=".4" y=".4" width="91.2" height="7.6"/>
<path class="sB" d="M0 8H92M0 22.4H92M0 30.4H92"/>
<text class="h" x="46" y="5.6">LANGUAGES</text>
<text x="2" y="13.8"><tspan class="u">ID</tspan><tspan x="2" dy="6.1">NAME</tspan></text>
<text x="17" y="13.8"><tspan class="u">VARCHAR2(5)</tspan><tspan x="17" dy="6.1">VARCHAR2(32)</tspan></text>
<text x="58" y="13.8">&lt;pk&gt;</text>
<text x="72" y="13.8"><tspan class="u">not null</tspan><tspan x="72" dy="6.1">not null</tspan></text>
<use href="#ky" x="2" y="24.8"/><text x="10" y="27.9">LANGUAGES_PKEY<tspan dx="5">&lt;pk&gt;</tspan></text>
</g>

<g id="isolanguagesdes" transform="translate(842,564)">
<rect class="B" width="104" height="46"/><rect class="hd" x=".4" y=".4" width="103.2" height="7.6"/>
<path class="sB" d="M0 8H104M0 28.5H104M0 36.5H104"/>
<text class="h" x="52" y="5.6">ISOLANGUAGESDES</text>
<text x="2" y="13.8"><tspan class="u">IDDES</tspan><tspan x="2" dy="6.1" class="u">LANGID</tspan><tspan x="2" dy="6.1">LABEL</tspan></text>
<text x="24" y="13.8"><tspan class="u">NUMBER</tspan><tspan x="24" dy="6.1" class="u">VARCHAR2(5)</tspan><tspan x="24" dy="6.1">VARCHAR2(96)</tspan></text>
<text x="62" y="13.8">&lt;pk,fk1&gt;<tspan x="62" dy="6.1">&lt;pk,fk2&gt;</tspan></text>
<text x="84" y="13.8"><tspan class="u">not null</tspan><tspan x="84" dy="6.1" class="u">not null</tspan><tspan x="84" dy="6.1">not null</tspan></text>
<use href="#ky" x="2" y="30.9"/><text x="10" y="34">ISOLANGUAGESDES_PKEY<tspan dx="5">&lt;pk&gt;</tspan></text>
</g>

<g id="regionsdes" transform="translate(972,564)">
<rect class="B" width="104" height="47"/><rect class="hd" x=".4" y=".4" width="103.2" height="7.6"/>
<path class="sB" d="M0 8H104M0 28.5H104M0 36.5H104"/>
<text class="h" x="52" y="5.6">REGIONSDES</text>
<text x="2" y="13.8"><tspan class="u">IDDES</tspan><tspan x="2" dy="6.1" class="u">LANGID</tspan><tspan x="2" dy="6.1">LABEL</tspan></text>
<text x="24" y="13.8"><tspan class="u">NUMBER</tspan><tspan x="24" dy="6.1" class="u">VARCHAR2(5)</tspan><tspan x="24" dy="6.1">VARCHAR2(96)</tspan></text>
<text x="62" y="13.8">&lt;pk,fk2&gt;<tspan x="62" dy="6.1">&lt;pk,fk1&gt;</tspan></text>
<text x="84" y="13.8"><tspan class="u">not null</tspan><tspan x="84" dy="6.1" class="u">not null</tspan><tspan x="84" dy="6.1">not null</tspan></text>
<use href="#ky" x="2" y="30.9"/><text x="10" y="34">REGIONSDES_PKEY<tspan dx="5">&lt;pk&gt;</tspan></text>
</g>

<g id="isolanguages" transform="translate(858,660)">
<rect class="B" width="100" height="39.4"/><rect class="hd" x=".4" y=".4" width="99.2" height="7.6"/>
<path class="sB" d="M0 8H100M0 22.4H100M0 30.4H100"/>
<text class="h" x="50" y="5.6">ISOLANGUAGES</text>
<text x="3" y="13.8"><tspan class="u">ID</tspan><tspan x="3" dy="6.1">CODE</tspan></text>
<text x="19" y="13.8"><tspan class="u">NUMBER</tspan><tspan x="19" dy="6.1">VARCHAR2(3)</tspan></text>
<text><tspan x="45" y="13.8">&lt;pk&gt;</tspan><tspan x="72" y="19.9">&lt;i&gt;</tspan></text>
<text x="81" y="13.8"><tspan class="u">not null</tspan><tspan x="81" dy="6.1">not null</tspan></text>
<use href="#ky" x="2" y="24.8"/><text x="10" y="27.9">ISOLANGUAGES_PKEY<tspan dx="5">&lt;pk&gt;</tspan></text>
<use href="#ix" x="2" y="31.8"/><text x="10" y="35.6">ISOLANGUAGES_CODE_KEY<tspan dx="5">&lt;i&gt;</tspan></text>
</g>

<g id="regions" transform="translate(969,640)">
<rect class="B" width="96" height="57.2"/><rect class="hd" x=".4" y=".4" width="95.2" height="7.6"/>
<path class="sB" d="M0 8H96M0 40.7H96M0 48.7H96"/>
<text class="h" x="48" y="5.6">REGIONS</text>
<text x="2" y="13.8"><tspan class="u">ID</tspan><tspan x="2" dy="6.1">NORTH</tspan><tspan x="2" dy="6.1">SOUTH</tspan><tspan x="2" dy="6.1">WEST</tspan><tspan x="2" dy="6.1">EAST</tspan></text>
<text x="22" y="13.8"><tspan class="u">NUMBER</tspan><tspan x="22" dy="6.1">NUMBER(28,24)</tspan><tspan x="22" dy="6.1">NUMBER(28,24)</tspan><tspan x="22" dy="6.1">NUMBER(28,24)</tspan><tspan x="22" dy="6.1">NUMBER(28,24)</tspan></text>
<text x="62" y="13.8">&lt;pk&gt;</text>
<text x="77" y="13.8"><tspan class="u">not null</tspan><tspan x="77" dy="6.1">not null</tspan><tspan x="77" dy="6.1">not null</tspan><tspan x="77" dy="6.1">not null</tspan><tspan x="77" dy="6.1">not null</tspan></text>
<use href="#ky" x="2" y="43.1"/><text x="10" y="46.2">REGIONS_PKEY<tspan dx="5">&lt;pk&gt;</tspan></text>
</g>

<g id="sw_perfil_usuario" transform="translate(1231,152)">
<rect class="G" width="117" height="51.6"/><rect class="hd" x=".4" y=".4" width="116.2" height="7.6"/>
<path class="sG" d="M0 8H117M0 28.5H117M0 36.5H117"/>
<text class="h" x="58.5" y="5.6">SW_PERFIL_USUARIO</text>
<text x="2" y="13.8"><tspan class="u">ID</tspan><tspan x="2" dy="6.1">VERSION</tspan><tspan x="2" dy="6.1">NOMBRE</tspan></text>
<text x="28" y="13.8"><tspan class="u">NUMBER</tspan><tspan x="28" dy="6.1">NUMBER</tspan><tspan x="28" dy="6.1">VARCHAR2(64)</tspan></text>
<text><tspan x="67" y="13.8">&lt;pk&gt;</tspan><tspan x="80" y="13.8">&lt;2&gt;</tspan><tspan x="80" y="26">&lt;1&gt;</tspan></text>
<text x="93" y="13.8"><tspan class="u">not null</tspan><tspan x="93" dy="6.1">not null</tspan><tspan x="93" dy="6.1">not null</tspan></text>
<use href="#ky" x="2" y="30.9"/><text x="10" y="34">SW_PERFIL_USUARIO_PKEY<tspan dx="5">&lt;pk&gt;</tspan></text>
<use href="#ix" x="2" y="37.9"/><use href="#ix" x="2" y="44"/>
<text x="10" y="41.7">SW_PERFIL_USUARIO_NOMBRE_KEY<tspan x="10" dy="6.1">SW_PERFIL_USUARIO_PK</tspan></text>
<text x="103" y="41.7">&lt;1&gt;<tspan x="103" dy="6.1">&lt;2&gt;</tspan></text>
</g>

<g id="sw_permiso" transform="translate(1247,246)">
<rect class="G" width="135" height="69.9"/><rect class="hd" x=".4" y=".4" width="134.2" height="7.6"/>
<path class="sG" d="M0 8H135M0 34.6H135M0 42.6H135"/>
<text class="h" x="67.5" y="5.6">SW_PERMISO</text>
<text x="2" y="13.8"><tspan class="u">ID</tspan><tspan x="2" dy="6.1">VERSION</tspan><tspan x="2" dy="6.1">OPCION_ID</tspan><tspan x="2" dy="6.1">PERFIL_USUARIO_ID</tspan></text>
<text x="54" y="13.8"><tspan class="u">NUMBER</tspan><tspan x="54" dy="6.1">NUMBER</tspan><tspan x="54" dy="6.1">NUMBER</tspan><tspan x="54" dy="6.1">NUMBER</tspan></text>
<text><tspan x="79" y="13.8">&lt;pk&gt;</tspan><tspan x="79" y="26">&lt;fk2&gt;</tspan><tspan x="79" y="32.1">&lt;fk1&gt;</tspan><tspan x="95" y="13.8">&lt;4&gt;</tspan><tspan x="95" y="26">&lt;2,3&gt;</tspan><tspan x="95" y="32.1">&lt;1,3&gt;</tspan></text>
<text x="113" y="13.8"><tspan class="u">not null</tspan><tspan x="113" dy="6.1">not null</tspan><tspan x="113" dy="6.1">not null</tspan><tspan x="113" dy="6.1">not null</tspan></text>
<use href="#ky" x="2" y="37"/><text x="10" y="40.1">SW_PERMISO_PKEY<tspan dx="5">&lt;pk&gt;</tspan></text>
<use href="#ix" x="2" y="44"/><use href="#ix" x="2" y="50.1"/><use href="#ix" x="2" y="56.2"/><use href="#ix" x="2" y="62.3"/>
<text x="10" y="47.8">FKCEA10BA5FF80FC1_FK<tspan x="10" dy="6.1">FKCEA10BA77DCE41A_FK</tspan><tspan x="10" dy="6.1">SW_PERMISO_PERFIL_KEY</tspan><tspan x="10" dy="6.1">SW_PERMISO_PK</tspan></text>
<text x="81" y="47.8">&lt;1&gt;<tspan x="81" dy="6.1">&lt;2&gt;</tspan><tspan x="81" dy="6.1">&lt;3&gt;</tspan><tspan x="81" dy="6.1">&lt;4&gt;</tspan></text>
</g>

<g id="sw_opcion" transform="translate(1261,372)">
<rect class="G" width="128" height="63.8"/><rect class="hd" x=".4" y=".4" width="127.2" height="7.6"/>
<path class="sG" d="M0 8H128M0 40.7H128M0 48.7H128"/>
<text class="h" x="64" y="5.6">SW_OPCION</text>
<text x="2" y="13.8"><tspan class="u">ID</tspan><tspan x="2" dy="6.1">VERSION</tspan><tspan x="2" dy="6.1">COMPONENTE</tspan><tspan x="2" dy="6.1">MODULO</tspan><tspan x="2" dy="6.1">NOMBRE</tspan></text>
<text x="41" y="13.8"><tspan class="u">NUMBER</tspan><tspan x="41" dy="6.1">NUMBER</tspan><tspan x="41" dy="6.1">VARCHAR2(70)</tspan><tspan x="41" dy="6.1">VARCHAR2(64)</tspan><tspan x="41" dy="6.1">VARCHAR2(80)</tspan></text>
<text><tspan x="79" y="13.8">&lt;pk&gt;</tspan><tspan x="93" y="13.8">&lt;2&gt;</tspan><tspan x="93" y="38.2">&lt;1&gt;</tspan></text>
<text x="106" y="13.8"><tspan class="u">not null</tspan><tspan x="106" dy="6.1">not null</tspan><tspan x="106" dy="6.1">not null</tspan><tspan x="106" dy="6.1">not null</tspan><tspan x="106" dy="6.1">not null</tspan></text>
<use href="#ky" x="2" y="43.1"/><text x="10" y="46.2">SW_OPCION_PKEY<tspan dx="5">&lt;pk&gt;</tspan></text>
<use href="#ix" x="2" y="50.1"/><use href="#ix" x="2" y="56.2"/>
<text x="10" y="53.9">SW_OPCION_NOMBRE_KEY<tspan x="10" dy="6.1">SW_OPCION_PK</tspan></text>
<text x="78" y="53.9">&lt;1&gt;<tspan x="78" dy="6.1">&lt;2&gt;</tspan></text>
</g>

<g id="sw_log_estados_metadato" transform="translate(1088,324)">
<rect class="G" width="149" height="94.3"/><rect class="hd" x=".4" y=".4" width="148.2" height="7.6"/>
<path class="sG" d="M0 8H149M0 59H149M0 67H149"/>
<text class="h" x="74.5" y="5.6">SW_LOG_ESTADOS_METADATO</text>
<text x="2" y="13.8"><tspan class="u">ID</tspan><tspan x="2" dy="6.1">VERSION</tspan><tspan x="2" dy="6.1">ESTADO</tspan><tspan x="2" dy="6.1">FECHA_CREACION</tspan><tspan x="2" dy="6.1">FECHA_INACTIVACION</tspan><tspan x="2" dy="6.1">METADATO_ID</tspan><tspan x="2" dy="6.1">USUARIO_CREO_ID</tspan><tspan x="2" dy="6.1">USUARIO_INACTIVO_ID</tspan></text>
<text x="60" y="13.8"><tspan class="u">NUMBER</tspan><tspan x="60" dy="6.1">NUMBER</tspan><tspan x="60" dy="6.1">VARCHAR2(64)</tspan><tspan x="60" dy="6.1">TIMESTAMP</tspan><tspan x="60" dy="6.1">TIMESTAMP</tspan><tspan x="60" dy="6.1">NUMBER</tspan><tspan x="60" dy="6.1">NUMBER</tspan><tspan x="60" dy="6.1">NUMBER</tspan></text>
<text><tspan x="99" y="13.8">&lt;pk&gt;</tspan><tspan x="99" y="44.3">&lt;fk2&gt;</tspan><tspan x="99" y="50.4">&lt;fk1&gt;</tspan><tspan x="99" y="56.5">&lt;fk3&gt;</tspan><tspan x="114" y="13.8">&lt;1&gt;</tspan><tspan x="114" y="44.3">&lt;3&gt;</tspan><tspan x="114" y="50.4">&lt;2&gt;</tspan><tspan x="114" y="56.5">&lt;4&gt;</tspan></text>
<text x="126" y="13.8"><tspan class="u">not null</tspan><tspan x="126" dy="6.1">not null</tspan><tspan x="126" dy="6.1">not null</tspan><tspan x="126" dy="6.1">not null</tspan><tspan x="126" dy="6.1">null</tspan><tspan x="126" dy="6.1">not null</tspan><tspan x="126" dy="6.1">null</tspan><tspan x="126" dy="6.1">null</tspan></text>
<use href="#ky" x="2" y="61.4"/><text x="10" y="64.5">SW_LOG_ESTADOS_METADATO_PKEY<tspan dx="5">&lt;pk&gt;</tspan></text>
<use href="#ix" x="2" y="68.4"/><use href="#ix" x="2" y="74.5"/><use href="#ix" x="2" y="80.6"/><use href="#ix" x="2" y="86.7"/>
<text x="10" y="72.2">SW_LOG_ESTADOS_METADATO_PK<tspan x="10" dy="6.1">FKC0779209592EFA48B_FK</tspan><tspan x="10" dy="6.1">FKC077920590C1B0BA_FK</tspan><tspan x="10" dy="6.1">FKC0779209964CA2_FK</tspan></text>
<text x="101" y="72.2">&lt;1&gt;<tspan x="101" dy="6.1">&lt;2&gt;</tspan><tspan x="101" dy="6.1">&lt;3&gt;</tspan><tspan x="101" dy="6.1">&lt;4&gt;</tspan></text>
</g>

<g id="sw_organizacion" transform="translate(1095,452)">
<rect class="G" width="169" height="88.2"/><rect class="hd" x=".4" y=".4" width="168.2" height="7.6"/>
<path class="sG" d="M0 8H169M0 59H169M0 67H169"/>
<text class="h" x="84.5" y="5.6">SW_ORGANIZACION</text>
<text x="3" y="13.8"><tspan class="u">ID</tspan><tspan x="3" dy="6.1">VERSION</tspan><tspan x="3" dy="6.1">CIUDAD_ID</tspan><tspan x="3" dy="6.1">CODIGO_POSTAL</tspan><tspan x="3" dy="6.1">DIRECCION</tspan><tspan x="3" dy="6.1">HORARIO</tspan><tspan x="3" dy="6.1">INSTRUCCIONES_CONTACTO</tspan><tspan x="3" dy="6.1">NOMBRE</tspan></text>
<text x="75" y="13.8"><tspan class="u">NUMBER</tspan><tspan x="75" dy="6.1">NUMBER</tspan><tspan x="75" dy="6.1">NUMBER</tspan><tspan x="75" dy="6.1">VARCHAR2(255)</tspan><tspan x="75" dy="6.1">VARCHAR2(255)</tspan><tspan x="75" dy="6.1">VARCHAR2(255)</tspan><tspan x="75" dy="6.1">VARCHAR2(2000)</tspan><tspan x="75" dy="6.1">VARCHAR2(255)</tspan></text>
<text><tspan x="119" y="13.8">&lt;pk&gt;</tspan><tspan x="119" y="26">&lt;fk&gt;</tspan><tspan x="133" y="13.8">&lt;3&gt;</tspan><tspan x="133" y="26">&lt;1&gt;</tspan><tspan x="133" y="56.5">&lt;2&gt;</tspan></text>
<text x="147" y="13.8"><tspan class="u">not null</tspan><tspan x="147" dy="6.1">not null</tspan><tspan x="147" dy="6.1">not null</tspan><tspan x="147" dy="6.1">null</tspan><tspan x="147" dy="6.1">not null</tspan><tspan x="147" dy="6.1">not null</tspan><tspan x="147" dy="6.1">not null</tspan><tspan x="147" dy="6.1">not null</tspan></text>
<use href="#ky" x="2" y="61.4"/><text x="10" y="64.5">SW_ORGANIZACION_PKEY<tspan dx="5">&lt;pk&gt;</tspan></text>
<use href="#ix" x="2" y="68.4"/><use href="#ix" x="2" y="74.5"/><use href="#ix" x="2" y="80.6"/>
<text x="10" y="72.2">FK24661DDF4788DECA_FK<tspan x="10" dy="6.1">SW_ORGANIZACION_NOMBRE_KEY</tspan><tspan x="10" dy="6.1">SW_ORGANIZACION_PK</tspan></text>
<text x="99" y="72.2">&lt;1&gt;<tspan x="99" dy="6.1">&lt;2&gt;</tspan><tspan x="99" dy="6.1">&lt;3&gt;</tspan></text>
</g>

<g id="sw_log_eliminacion_metadato" transform="translate(1289,463)">
<rect class="G" width="145" height="76"/><rect class="hd" x=".4" y=".4" width="144.2" height="7.6"/>
<path class="sG" d="M0 8H145M0 46.8H145M0 54.8H145"/>
<text class="h" x="72.5" y="5.6">SW_LOG_ELIMINACION_METADATO</text>
<text x="3" y="13.8"><tspan class="u">ID</tspan><tspan x="3" dy="6.1">VERSION</tspan><tspan x="3" dy="6.1">FECHA_ELIMINACION</tspan><tspan x="3" dy="6.1">ID_METADATO</tspan><tspan x="3" dy="6.1">TITULO</tspan><tspan x="3" dy="6.1">USUARIO_ID</tspan></text>
<text x="56" y="13.8"><tspan class="u">NUMBER</tspan><tspan x="56" dy="6.1">NUMBER</tspan><tspan x="56" dy="6.1">TIMESTAMP</tspan><tspan x="56" dy="6.1">NUMBER</tspan><tspan x="56" dy="6.1">VARCHAR2(255)</tspan><tspan x="56" dy="6.1">NUMBER</tspan></text>
<text><tspan x="97" y="13.8">&lt;pk&gt;</tspan><tspan x="97" y="44.3">&lt;fk&gt;</tspan><tspan x="111" y="13.8">&lt;3&gt;</tspan><tspan x="111" y="32.1">&lt;2&gt;</tspan><tspan x="111" y="44.3">&lt;1&gt;</tspan></text>
<text x="125" y="13.8"><tspan class="u">not null</tspan><tspan x="125" dy="6.1">not null</tspan><tspan x="125" dy="6.1">not null</tspan><tspan x="125" dy="6.1">not null</tspan><tspan x="125" dy="6.1">not null</tspan><tspan x="125" dy="6.1">not null</tspan></text>
<use href="#ky" x="2" y="49.2"/><text x="10" y="52.3">SW_LOG_ELIMINA_META_PKEY<tspan dx="5">&lt;pk&gt;</tspan></text>
<use href="#ix" x="2" y="56.2"/><use href="#ix" x="2" y="62.3"/><use href="#ix" x="2" y="68.4"/>
<text x="10" y="60">FK8CF3ECBCE64612DA_FK<tspan x="10" dy="6.1">SW_LOG_ELIMINA_META_KEY</tspan><tspan x="10" dy="6.1">SW_LOG_ELIMINACION_METADATO_PK</tspan></text>
<text x="108" y="60">&lt;1&gt;<tspan x="108" dy="6.1">&lt;2&gt;</tspan><tspan x="108" dy="6.1">&lt;3&gt;</tspan></text>
</g>

<g id="sw_ciudad" transform="translate(1103,562)">
<rect class="G" width="146" height="63.8"/><rect class="hd" x=".4" y=".4" width="145.2" height="7.6"/>
<path class="sG" d="M0 8H146M0 34.6H146M0 42.6H146"/>
<text class="h" x="73" y="5.6">SW_CIUDAD</text>
<text x="2" y="13.8"><tspan class="u">ID</tspan><tspan x="2" dy="6.1">VERSION</tspan><tspan x="2" dy="6.1">DEPARTAMENTO_ID</tspan><tspan x="2" dy="6.1">NOMBRE</tspan></text>
<text x="54" y="13.8"><tspan class="u">NUMBER</tspan><tspan x="54" dy="6.1">NUMBER</tspan><tspan x="54" dy="6.1">NUMBER</tspan><tspan x="54" dy="6.1">VARCHAR2(64)</tspan></text>
<text><tspan x="92" y="13.8">&lt;pk&gt;</tspan><tspan x="92" y="26">&lt;fk&gt;</tspan><tspan x="106" y="13.8">&lt;3&gt;</tspan><tspan x="106" y="26">&lt;1,2&gt;</tspan><tspan x="106" y="32.1">&lt;2&gt;</tspan></text>
<text x="125" y="13.8"><tspan class="u">not null</tspan><tspan x="125" dy="6.1">not null</tspan><tspan x="125" dy="6.1">not null</tspan><tspan x="125" dy="6.1">not null</tspan></text>
<use href="#ky" x="2" y="37"/><text x="10" y="40.1">SW_CIUDAD_PKEY<tspan dx="5">&lt;pk&gt;</tspan></text>
<use href="#ix" x="2" y="44"/><use href="#ix" x="2" y="50.1"/><use href="#ix" x="2" y="56.2"/>
<text x="10" y="47.8">FK34C7D29340AF175A_FK<tspan x="10" dy="6.1">SW_CIUDAD_DEPARTAMENTO_ID_KEY</tspan><tspan x="10" dy="6.1">SW_CIUDAD_PK</tspan></text>
<text x="107" y="47.8">&lt;1&gt;<tspan x="107" dy="6.1">&lt;2&gt;</tspan><tspan x="107" dy="6.1">&lt;3&gt;</tspan></text>
</g>

<g id="sw_departamento" transform="translate(1123,669)">
<rect class="G" width="120" height="63.8"/><rect class="hd" x=".4" y=".4" width="119.2" height="7.6"/>
<path class="sG" d="M0 8H120M0 34.6H120M0 42.6H120"/>
<text class="h" x="60" y="5.6">SW_DEPARTAMENTO</text>
<text x="2" y="13.8"><tspan class="u">ID</tspan><tspan x="2" dy="6.1">VERSION</tspan><tspan x="2" dy="6.1">NOMBRE</tspan><tspan x="2" dy="6.1">PAIS_ID</tspan></text>
<text x="27" y="13.8"><tspan class="u">NUMBER</tspan><tspan x="27" dy="6.1">NUMBER</tspan><tspan x="27" dy="6.1">VARCHAR2(64)</tspan><tspan x="27" dy="6.1">NUMBER</tspan></text>
<text><tspan x="66" y="13.8">&lt;pk&gt;</tspan><tspan x="66" y="32.1">&lt;fk&gt;</tspan><tspan x="80" y="13.8">&lt;3&gt;</tspan><tspan x="80" y="26">&lt;2&gt;</tspan><tspan x="80" y="32.1">&lt;1,2&gt;</tspan></text>
<text x="99" y="13.8"><tspan class="u">not null</tspan><tspan x="99" dy="6.1">not null</tspan><tspan x="99" dy="6.1">not null</tspan><tspan x="99" dy="6.1">not null</tspan></text>
<use href="#ky" x="2" y="37"/><text x="10" y="40.1">SW_DEPARTAMENTO_PKEY<tspan dx="5">&lt;pk&gt;</tspan></text>
<use href="#ix" x="2" y="44"/><use href="#ix" x="2" y="50.1"/><use href="#ix" x="2" y="56.2"/>
<text x="10" y="47.8">FK824609FFD06333FA_FK<tspan x="10" dy="6.1">SW_DEPARTAMENTO_PAIS_ID_KEY</tspan><tspan x="10" dy="6.1">SW_DEPARTAMENTO_PK</tspan></text>
<text x="101" y="47.8">&lt;1&gt;<tspan x="101" dy="6.1">&lt;2&gt;</tspan><tspan x="101" dy="6.1">&lt;3&gt;</tspan></text>
</g>

<g id="sw_pais" transform="translate(1282,602)">
<rect class="G" width="123" height="57.7"/><rect class="hd" x=".4" y=".4" width="122.2" height="7.6"/>
<path class="sG" d="M0 8H123M0 34.6H123M0 42.6H123"/>
<text class="h" x="61.5" y="5.6">SW_PAIS</text>
<text x="2" y="13.8"><tspan class="u">ID</tspan><tspan x="2" dy="6.1">VERSION</tspan><tspan x="2" dy="6.1">NOMBRE</tspan><tspan x="2" dy="6.1">CODIGO_ISO</tspan></text>
<text x="36" y="13.8"><tspan class="u">NUMBER</tspan><tspan x="36" dy="6.1">NUMBER</tspan><tspan x="36" dy="6.1">VARCHAR2(64)</tspan><tspan x="36" dy="6.1">VARCHAR2(2)</tspan></text>
<text><tspan x="75" y="13.8">&lt;pk&gt;</tspan><tspan x="89" y="13.8">&lt;2&gt;</tspan><tspan x="89" y="26">&lt;1&gt;</tspan></text>
<text x="102" y="13.8"><tspan class="u">not null</tspan><tspan x="102" dy="6.1">not null</tspan><tspan x="102" dy="6.1">not null</tspan><tspan x="102" dy="6.1">not null</tspan></text>
<use href="#ky" x="2" y="37"/><text x="10" y="40.1">SW_PAIS_PKEY<tspan dx="5">&lt;pk&gt;</tspan></text>
<use href="#ix" x="2" y="44"/><use href="#ix" x="2" y="50.1"/>
<text x="10" y="47.8">SW_PAIS_NOMBRE_KEY<tspan x="10" dy="6.1">SW_PAIS_PK</tspan></text>
<text x="74" y="47.8">&lt;1&gt;<tspan x="74" dy="6.1">&lt;2&gt;</tspan></text>
</g>

<g id="sw_contacto" transform="translate(194,728)">
<rect class="G" width="148" height="82.1"/><rect class="hd" x=".4" y=".4" width="147.2" height="7.6"/>
<path class="sG" d="M0 8H148M0 65.1H148M0 73.1H148"/>
<text class="h" x="74" y="5.6">SW_CONTACTO</text>
<text x="3" y="13.8"><tspan class="u">ID</tspan><tspan x="3" dy="6.1">VERSION</tspan><tspan x="3" dy="6.1">ACTUALIZADO_POR</tspan><tspan x="3" dy="6.1">CREADO_POR</tspan><tspan x="3" dy="6.1">FECHA_CREACION</tspan><tspan x="3" dy="6.1">FECHA_MODIFICACION</tspan><tspan x="3" dy="6.1">ID_ORIGEN</tspan><tspan x="3" dy="6.1">NOMBRE</tspan><tspan x="3" dy="6.1">XML_DATA</tspan></text>
<text x="61" y="13.8"><tspan class="u">NUMBER</tspan><tspan x="61" dy="6.1">NUMBER</tspan><tspan x="61" dy="6.1">VARCHAR2(255)</tspan><tspan x="61" dy="6.1">VARCHAR2(255)</tspan><tspan x="61" dy="6.1">TIMESTAMP</tspan><tspan x="61" dy="6.1">TIMESTAMP</tspan><tspan x="61" dy="6.1">NUMBER</tspan><tspan x="61" dy="6.1">VARCHAR2(255)</tspan><tspan x="61" dy="6.1">CLOB</tspan></text>
<text y="13.8"><tspan x="102">&lt;pk&gt;</tspan><tspan x="116">&lt;i&gt;</tspan></text>
<text x="126" y="13.8"><tspan class="u">not null</tspan><tspan x="126" dy="6.1">not null</tspan><tspan x="126" dy="6.1">null</tspan><tspan x="126" dy="6.1">null</tspan><tspan x="126" dy="6.1">null</tspan><tspan x="126" dy="6.1">null</tspan><tspan x="126" dy="6.1">null</tspan><tspan x="126" dy="6.1">not null</tspan><tspan x="126" dy="6.1">not null</tspan></text>
<use href="#ky" x="2" y="67.5"/><text x="10" y="70.6">SW_CONTACTO_PKEY<tspan dx="5">&lt;pk&gt;</tspan></text>
<use href="#ix" x="2" y="74.5"/><text x="10" y="78.3">SW_CONTACTO_PK<tspan dx="5">&lt;i&gt;</tspan></text>
</g>

<g id="sw_metaformulario" transform="translate(6,775)">
<rect class="G" width="118" height="142.6"/><rect class="hd" x=".4" y=".4" width="117.2" height="7.6"/>
<path class="sG" d="M0 8H118M0 126.1H118M0 134.1H118"/>
<text class="h" x="59" y="5.6">SW_METAFORMULARIO</text>
<text x="2" y="13.8">PATH<tspan x="2" dy="6.1">FORMULARIO</tspan><tspan x="2" dy="6.1">CAMPO</tspan><tspan x="2" dy="6.1">MINOCCURS</tspan><tspan x="2" dy="6.1">MAXOCCURS</tspan><tspan x="2" dy="6.1">ESPANOL</tspan><tspan x="2" dy="6.1">INGLES</tspan><tspan x="2" dy="6.1">DESCRIPCION</tspan><tspan x="2" dy="6.1">MINIMO</tspan><tspan x="2" dy="6.1">DOMINIO</tspan><tspan x="2" dy="6.1">TEXTAREA</tspan><tspan x="2" dy="6.1">DOMINIO_APP</tspan><tspan x="2" dy="6.1">NOINCLUIR</tspan><tspan x="2" dy="6.1">OBLIGATORIO</tspan><tspan x="2" dy="6.1">CITACION</tspan><tspan x="2" dy="6.1">CONTACTO</tspan><tspan x="2" dy="6.1">DESCRIPTOR</tspan><tspan x="2" dy="6.1">FECHA</tspan><tspan x="2" dy="6.1" class="u">ID</tspan></text>
<text x="39" y="13.8">VARCHAR2(500)<tspan x="39" dy="6.1">VARCHAR2(50)</tspan><tspan x="39" dy="6.1">VARCHAR2(50)</tspan><tspan x="39" dy="6.1">VARCHAR2(45)</tspan><tspan x="39" dy="6.1">VARCHAR2(45)</tspan><tspan x="39" dy="6.1">VARCHAR2(50)</tspan><tspan x="39" dy="6.1">VARCHAR2(50)</tspan><tspan x="39" dy="6.1">VARCHAR2(2000)</tspan><tspan x="39" dy="6.1">NUMBER</tspan><tspan x="39" dy="6.1">VARCHAR2(50)</tspan><tspan x="39" dy="6.1">NUMBER</tspan><tspan x="39" dy="6.1">VARCHAR2(50)</tspan><tspan x="39" dy="6.1">NUMBER</tspan><tspan x="39" dy="6.1">NUMBER</tspan><tspan x="39" dy="6.1">NUMBER</tspan><tspan x="39" dy="6.1">NUMBER</tspan><tspan x="39" dy="6.1">NUMBER</tspan><tspan x="39" dy="6.1">NUMBER</tspan><tspan x="39" dy="6.1" class="u">NUMBER</tspan></text>
<text x="83" y="123.6">&lt;pk&gt;</text>
<text x="97" y="13.8">null<tspan x="97" dy="6.1">not null</tspan><tspan x="97" dy="6.1">null</tspan><tspan x="97" dy="6.1">null</tspan><tspan x="97" dy="6.1">null</tspan><tspan x="97" dy="6.1">null</tspan><tspan x="97" dy="6.1">null</tspan><tspan x="97" dy="6.1">null</tspan><tspan x="97" dy="6.1">not null</tspan><tspan x="97" dy="6.1">null</tspan><tspan x="97" dy="6.1">not null</tspan><tspan x="97" dy="6.1">null</tspan><tspan x="97" dy="6.1">not null</tspan><tspan x="97" dy="6.1">not null</tspan><tspan x="97" dy="6.1">not null</tspan><tspan x="97" dy="6.1">not null</tspan><tspan x="97" dy="6.1">not null</tspan><tspan x="97" dy="6.1">not null</tspan><tspan x="97" dy="6.1" class="u">not null</tspan></text>
<use href="#ky" x="2" y="128.5"/><text x="10" y="131.6">METAFORMULARIO_PK<tspan dx="5">&lt;pk&gt;</tspan></text>
</g>

<g id="sw_extension" transform="translate(241,878)">
<rect class="G" width="147" height="100.4"/><rect class="hd" x=".4" y=".4" width="146.2" height="7.6"/>
<path class="sG" d="M0 8H147M0 71.2H147M0 79.2H147"/>
<text class="h" x="73.5" y="5.6">SW_EXTENSION</text>
<text x="2" y="13.8"><tspan class="u">ID</tspan><tspan x="2" dy="6.1">VERSION</tspan><tspan x="2" dy="6.1">CODIGO</tspan><tspan x="2" dy="6.1">NOMBRE</tspan><tspan x="2" dy="6.1">PADRE_ID</tspan><tspan x="2" dy="6.1">PUBLICO</tspan><tspan x="2" dy="6.1">TIPO_DOMINIO_ID</tspan><tspan x="2" dy="6.1">CODIGO_COMPLETO</tspan><tspan x="2" dy="6.1">NIVEL</tspan><tspan x="2" dy="6.1">ES_ULTIMO</tspan></text>
<text x="55" y="13.8"><tspan class="u">NUMBER</tspan><tspan x="55" dy="6.1">NUMBER</tspan><tspan x="55" dy="6.1">VARCHAR2(255)</tspan><tspan x="55" dy="6.1">VARCHAR2(255)</tspan><tspan x="55" dy="6.1">NUMBER</tspan><tspan x="55" dy="6.1">NUMBER</tspan><tspan x="55" dy="6.1">NUMBER</tspan><tspan x="55" dy="6.1">VARCHAR2(255)</tspan><tspan x="55" dy="6.1">NUMBER</tspan><tspan x="55" dy="6.1">NUMBER</tspan></text>
<text><tspan x="96" y="13.8">&lt;pk&gt;</tspan><tspan x="96" y="38.2">&lt;fk2&gt;</tspan><tspan x="96" y="50.4">&lt;fk1&gt;</tspan><tspan x="111" y="13.8">&lt;1&gt;</tspan><tspan x="111" y="38.2">&lt;3&gt;</tspan><tspan x="111" y="50.4">&lt;2&gt;</tspan></text>
<text x="125" y="13.8"><tspan class="u">not null</tspan><tspan x="125" dy="6.1">not null</tspan><tspan x="125" dy="6.1">not null</tspan><tspan x="125" dy="6.1">not null</tspan><tspan x="125" dy="6.1">null</tspan><tspan x="125" dy="6.1">not null</tspan><tspan x="125" dy="6.1">null</tspan><tspan x="125" dy="6.1">null</tspan><tspan x="125" dy="6.1">null</tspan><tspan x="125" dy="6.1">null</tspan></text>
<use href="#ky" x="2" y="73.6"/><text x="10" y="76.7">SW_EXTENSION_PKEY<tspan dx="5">&lt;pk&gt;</tspan></text>
<use href="#ix" x="2" y="80.6"/><use href="#ix" x="2" y="86.7"/><use href="#ix" x="2" y="92.8"/>
<text x="10" y="84.4">SW_EXTENSION_PK<tspan x="10" dy="6.1">FK2DDA782477773991_FK</tspan><tspan x="10" dy="6.1">FK2DDA782481C9C213_FK</tspan></text>
<text x="78" y="84.4">&lt;1&gt;<tspan x="78" dy="6.1">&lt;2&gt;</tspan><tspan x="78" dy="6.1">&lt;3&gt;</tspan></text>
</g>

<g id="sw_extension_metadato" transform="translate(83,971)">
<rect class="G" width="123" height="57.7"/><rect class="hd" x=".4" y=".4" width="122.2" height="7.6"/>
<path class="sG" d="M0 8H123M0 28.5H123M0 36.5H123"/>
<text class="h" x="61.5" y="5.6">SW_EXTENSION_METADATO</text>
<text x="3" y="13.8"><tspan class="u">ID</tspan><tspan x="3" dy="6.1">ID_METADATO</tspan><tspan x="3" dy="6.1">ID_EXTENSION</tspan></text>
<text x="42" y="13.8"><tspan class="u">NUMBER</tspan><tspan x="42" dy="6.1">NUMBER</tspan><tspan x="42" dy="6.1">NUMBER</tspan></text>
<text><tspan x="66" y="13.8">&lt;pk&gt;</tspan><tspan x="66" y="19.9">&lt;fk2&gt;</tspan><tspan x="66" y="26">&lt;fk1&gt;</tspan><tspan x="82" y="19.9">&lt;2,3&gt;</tspan><tspan x="82" y="26">&lt;1,3&gt;</tspan></text>
<text x="101" y="13.8"><tspan class="u">not null</tspan><tspan x="101" dy="6.1">not null</tspan><tspan x="101" dy="6.1">not null</tspan></text>
<use href="#ky" x="2" y="30.9"/><text x="10" y="34">SW_EXTENSION_METADATO_PKEY<tspan dx="5">&lt;pk&gt;</tspan></text>
<use href="#ix" x="2" y="37.9"/><use href="#ix" x="2" y="44"/><use href="#ix" x="2" y="50.1"/>
<text x="10" y="41.7">SW_EXTENSION_METADATO_INDEX1<tspan x="10" dy="6.1">SW_EXTENSION_METADATO_INDEX2</tspan><tspan x="10" dy="6.1">SW_EXTENSION_METADATO_INDEX3</tspan></text>
<text x="106" y="41.7">&lt;1&gt;<tspan x="106" dy="6.1">&lt;2&gt;</tspan><tspan x="106" dy="6.1">&lt;3&gt;</tspan></text>
</g>

<g id="sw_variable_extension" transform="translate(349,1083)">
<rect class="G" width="164" height="57.7"/><rect class="hd" x=".4" y=".4" width="163.2" height="7.6"/>
<path class="sG" d="M0 8H164M0 34.6H164M0 42.6H164"/>
<text class="h" x="82" y="5.6">SW_VARIABLE_EXTENSION</text>
<text x="3" y="13.8"><tspan class="u">ID</tspan><tspan x="3" dy="6.1">ID_EXTENSION</tspan><tspan x="3" dy="6.1">VALOR</tspan><tspan x="3" dy="6.1">ID_EXTENSION_METADATO</tspan></text>
<text x="71" y="13.8"><tspan class="u">NUMBER</tspan><tspan x="71" dy="6.1">NUMBER</tspan><tspan x="71" dy="6.1">VARCHAR2(256)</tspan><tspan x="71" dy="6.1">NUMBER</tspan></text>
<text><tspan x="114" y="13.8">&lt;pk&gt;</tspan><tspan x="114" y="19.9">&lt;fk1&gt;</tspan><tspan x="114" y="32.1">&lt;fk2&gt;</tspan><tspan x="130" y="19.9">&lt;1&gt;</tspan><tspan x="130" y="32.1">&lt;2&gt;</tspan></text>
<text x="141" y="13.8"><tspan class="u">not null</tspan><tspan x="141" dy="6.1">not null</tspan><tspan x="141" dy="6.1">not null</tspan><tspan x="141" dy="6.1">not null</tspan></text>
<use href="#ky" x="2" y="37"/><text x="10" y="40.1">SW_VARIABLES_EXTENSION_PKEY<tspan dx="5">&lt;pk&gt;</tspan></text>
<use href="#ix" x="2" y="44"/><use href="#ix" x="2" y="50.1"/>
<text x="10" y="47.8">SW_VARIABLES_EXTENSION_INDEX1<tspan x="10" dy="6.1">SW_VARIABLES_EXTENSION_INDEX2</tspan></text>
<text x="105" y="47.8">&lt;1&gt;<tspan x="105" dy="6.1">&lt;2&gt;</tspan></text>
</g>

<g id="legend">
<rect x="1106" y="803" width="242" height="69" rx="8" fill="#fff" stroke="#8a80cc" stroke-width="1"/>
<text class="lg" x="1117" y="824.5">Entidades Swami</text>
<text class="lg" x="1117" y="848.5">Entidades Geonetwork</text>
<rect class="G" x="1242" y="812" width="70" height="18"/>
<rect class="B" x="1242" y="834" width="69" height="18"/>
</g>
</svg>
